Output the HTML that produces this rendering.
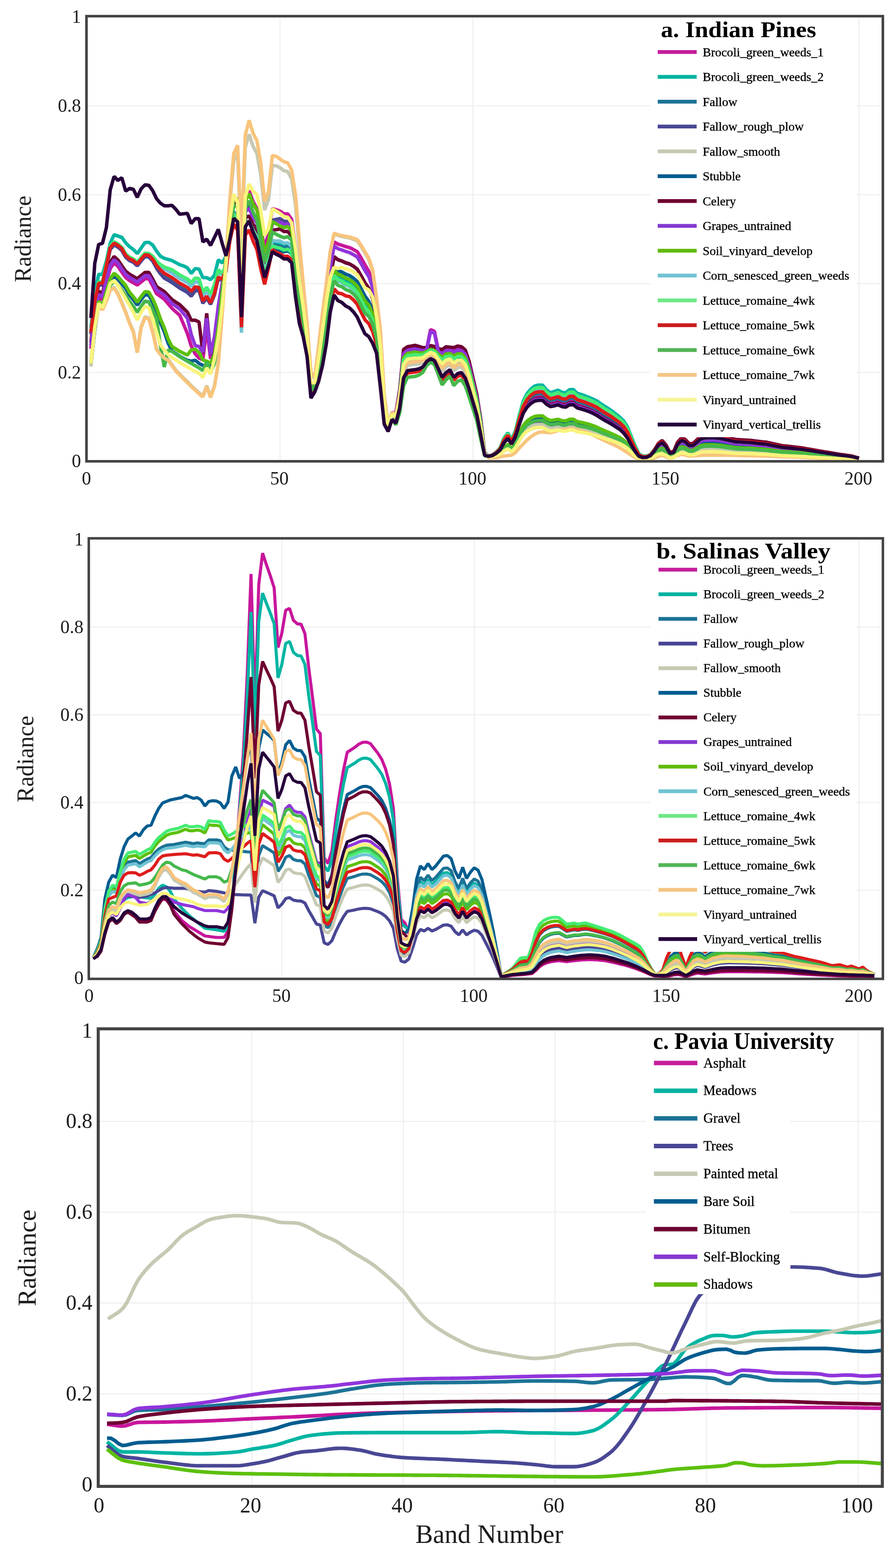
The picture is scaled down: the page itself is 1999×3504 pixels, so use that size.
<!DOCTYPE html>
<html lang="en"><head><meta charset="utf-8"><title>Spectral signatures</title>
<style>html,body{margin:0;padding:0;background:#fff}body{width:1999px;height:3504px;overflow:hidden}svg{display:block}text{font-family:'Liberation Serif', serif}.g{stroke:#efefef;stroke-width:2.4;fill:none}.fr{stroke:#444;fill:none}.c{fill:none;stroke-linejoin:round;stroke-linecap:butt}.cb{fill:none;stroke-linejoin:bevel;stroke-linecap:butt}</style></head><body>
<svg width="1999" height="3504" viewBox="0 0 1999 3504" role="img" aria-label="Spectral signatures of the Indian Pines, Salinas Valley and Pavia University datasets">
<defs><filter id="bl" x="-5%" y="-5%" width="110%" height="110%"><feGaussianBlur stdDeviation="0.55"/></filter><filter id="bt" x="-5%" y="-20%" width="110%" height="140%"><feGaussianBlur stdDeviation="0.7"/></filter></defs>
<rect width="1999" height="3504" fill="#fff"/>
<g id="chart-a">
<clipPath id="cpa"><rect x="193.1" y="36.1" width="1778.8" height="994.8"/></clipPath>
<path class="g" d="M625.5 36.1V1030.9M1056.5 36.1V1030.9M1487.5 36.1V1030.9M1918.5 36.1V1030.9M193.1 832.3H1971.9M193.1 633.7H1971.9M193.1 435.1H1971.9M193.1 236.5H1971.9"/>
<g clip-path="url(#cpa)"><g filter="url(#bl)">
<path class="cb" stroke="#c8189c" stroke-width="7.7" d="M203.1,779.3 211.7,699.7 220.4,664.8 229,669.8 237.6,630 246.2,600.2 254.8,587.2 263.5,595.2 272.1,608.1 280.7,620.1 289.3,627 297.9,632 306.6,637 315.2,630 323.8,623 332.4,623 341,638.6 349.7,656.2 358.3,662.4 366.9,668.5 375.5,678.8 384.1,689 392.8,696.8 401.4,704.6 410,724.8 418.6,745.4 427.2,773.3 435.9,790.7 444.5,800.2 453.1,804.1 461.7,732.5 470.3,802.1 479,772.3 487.6,702.6 496.2,643 504.8,583.2 513.4,507.2 522.1,444.3 530.7,444.3 539.3,656.1 547.9,445.1 556.5,426.2 565.2,450.1 573.8,466 582.4,509.1 591,554.6 599.6,520.5 608.3,466.1 616.9,468.7 625.5,471.9 634.1,477.6 642.7,478.1 651.4,490 660,554.5 668.6,634 677.2,693.6 685.8,759.4 694.5,858 703.1,855.5 711.7,800 720.3,734.4 728.9,666 737.6,588.3 746.2,540.5 754.8,545.5 763.4,548.2 772,551 780.7,553.3 789.3,557.5 797.9,562.3 806.5,576.3 815.1,591.7 823.8,606.7 832.4,633.1 841,689 849.6,763.1 858.2,898.3 866.9,951.8 875.5,922 884.1,923.2 892.7,874.6 901.3,785.4 910,778.5 918.6,777.1 927.2,775.5 935.8,777.8 944.4,779.9 953.1,779 961.7,736.5 970.3,740.5 978.9,782 987.5,785.6 996.2,778.8 1004.8,779.3 1013.4,781.4 1022,777.6 1030.6,778.8 1039.3,786.6 1047.9,812.1 1056.5,848.7 1065.1,885 1073.7,938.9 1082.4,1011.5 1091,1019.6 1099.6,1017.7 1108.2,1012.4 1116.8,1004.8 1125.5,986.9 1134.1,976.6 1142.7,989.7 1151.3,972.3 1159.9,943 1168.6,916.6 1177.2,902 1185.8,893.2 1194.4,887.4 1203,885.8 1211.7,885.8 1220.3,894.7 1228.9,900.5 1237.5,898.9 1246.1,896.1 1254.8,900.3 1263.4,901.6 1272,895.9 1280.6,895.8 1289.2,903.2 1297.9,905.7 1306.5,908.4 1315.1,911.5 1323.7,915.4 1332.3,919.6 1341,925.5 1349.6,930.9 1358.2,935.8 1366.8,941 1375.4,946.8 1384.1,952.6 1392.7,960.7 1401.3,972.6 1409.9,989.6 1418.5,1005.8 1427.2,1018.4 1435.8,1021.7 1444.4,1021.3 1453,1017.4 1461.6,1006.9 1470.3,994 1478.9,989.2 1487.5,998.2 1496.1,1013.1 1504.7,1011.1 1513.4,992.7 1522,984.5 1530.6,987.2 1539.2,995.7 1547.8,995.7 1556.5,988.2 1565.1,980.9 1573.7,978.7 1582.3,978.3 1590.9,977.9 1599.6,978.8 1608.2,979.8 1616.8,981.6 1625.4,983.4 1634,985.3 1642.7,987.2 1651.3,987.7 1659.9,988.2 1668.5,988.6 1677.1,989 1685.8,990.1 1694.4,991.2 1703,991.9 1711.6,992.7 1720.2,994.4 1728.9,996.2 1737.5,997.8 1746.1,999.5 1754.7,1000.3 1763.3,1001.2 1772,1002.1 1780.6,1003 1789.2,1003.8 1797.8,1005.2 1806.4,1006.5 1815.1,1007.8 1823.7,1009.2 1832.3,1010.5 1840.9,1011.8 1849.5,1013.1 1858.2,1014.3 1866.8,1015.6 1875.4,1016.9 1884,1017.9 1892.6,1019 1901.3,1020.1 1909.9,1022.1 1918.5,1024.2"/>
<path class="cb" stroke="#00b5a2" stroke-width="7.7" d="M203.1,732.5 211.7,652.9 220.4,613.1 229,613.1 237.6,583.2 246.2,543.5 254.8,524.5 263.5,527.5 272.1,530.5 280.7,542.5 289.3,551.4 297.9,557.4 306.6,566.7 315.2,554.4 323.8,542 332.4,541.5 341,547.4 349.7,561.4 358.3,572.3 366.9,577.3 375.5,579.8 384.1,582.3 392.8,586.9 401.4,591.6 410,594.2 418.6,598.5 427.2,611.1 435.9,600.2 444.5,601.2 453.1,620.5 461.7,620.5 470.3,625 479,615.1 487.6,580.6 496.2,587.4 504.8,573.3 513.4,523 522.1,473.8 530.7,483.4 539.3,700.2 547.9,501.7 556.5,493.7 565.2,515.3 573.8,530.9 582.4,571.2 591,610 599.6,581 608.3,543.3 616.9,545.7 625.5,546.7 634.1,550.5 642.7,548.3 651.4,555.5 660,625.5 668.6,690.3 677.2,729.9 685.8,781.5 694.5,875.3 703.1,865.6 711.7,827.2 720.3,779.5 728.9,723.7 737.6,651.7 746.2,610.9 754.8,620.3 763.4,623.5 772,629.2 780.7,632.6 789.3,639.2 797.9,648 806.5,664.7 815.1,681.6 823.8,692.4 832.4,712.8 841,749 849.6,824.9 858.2,927.5 866.9,959 875.5,930.7 884.1,935.7 892.7,894.9 901.3,818.1 910,805.8 918.6,804.5 927.2,803.2 935.8,803.3 944.4,801.9 953.1,794.8 961.7,789.3 970.3,792.5 978.9,805.2 987.5,817 996.2,808.3 1004.8,805.1 1013.4,815.2 1022,809.1 1030.6,808.3 1039.3,818.6 1047.9,843.7 1056.5,876.1 1065.1,908.3 1073.7,956.7 1082.4,1014.6 1091,1019.2 1099.6,1016.8 1108.2,1010.4 1116.8,1001.1 1125.5,979.3 1134.1,967.2 1142.7,982.5 1151.3,962.1 1159.9,927.8 1168.6,896.7 1177.2,879.6 1185.8,869.3 1194.4,862.5 1203,860.6 1211.7,860.6 1220.3,870.7 1228.9,877.4 1237.5,875.2 1246.1,871.8 1254.8,876.5 1263.4,877.8 1272,870.8 1280.6,870.4 1289.2,878.9 1297.9,881.5 1306.5,884.5 1315.1,887.9 1323.7,891.5 1332.3,895.4 1341,901.5 1349.6,907.2 1358.2,912.6 1366.8,918.5 1375.4,925.2 1384.1,932 1392.7,940.2 1401.3,953.9 1409.9,975.2 1418.5,996.3 1427.2,1014.3 1435.8,1019.1 1444.4,1019.1 1453,1015.6 1461.6,1004.7 1470.3,992.3 1478.9,989.2 1487.5,998.2 1496.1,1013.1 1504.7,1011.1 1513.4,992.7 1522,984.5 1530.6,987.2 1539.2,995.7 1547.8,995.7 1556.5,988.2 1565.1,980.9 1573.7,978.7 1582.3,978.3 1590.9,977.9 1599.6,978.8 1608.2,979.8 1616.8,981.6 1625.4,983.4 1634,985.3 1642.7,987.2 1651.3,987.7 1659.9,988.2 1668.5,988.6 1677.1,989 1685.8,990.1 1694.4,991.2 1703,991.9 1711.6,992.7 1720.2,994.4 1728.9,996.2 1737.5,997.8 1746.1,999.5 1754.7,1000.3 1763.3,1001.2 1772,1002.1 1780.6,1003 1789.2,1003.8 1797.8,1005.2 1806.4,1006.5 1815.1,1007.8 1823.7,1009.2 1832.3,1010.5 1840.9,1011.8 1849.5,1013.1 1858.2,1014.3 1866.8,1015.6 1875.4,1016.9 1884,1017.9 1892.6,1019 1901.3,1020.1 1909.9,1022.1 1918.5,1024.2"/>
<path class="cb" stroke="#1e7396" stroke-width="7.7" d="M203.1,745.4 211.7,675.8 220.4,636 229,636 237.6,596.2 246.2,556.4 254.8,546.4 263.5,551.4 272.1,558.7 280.7,573.8 289.3,581.3 297.9,585.2 306.6,593.2 315.2,582.3 323.8,572.4 332.4,573.3 341,582.3 349.7,596.2 358.3,606.1 366.9,613.6 375.5,618.5 384.1,623.4 392.8,629.7 401.4,636 410,640.7 418.6,645.4 427.2,653.9 435.9,643.9 444.5,645.4 453.1,675.8 461.7,664.8 470.3,679.8 479,658.9 487.6,622.1 496.2,627.5 504.8,606.1 513.4,524.7 522.1,476.2 530.7,485.4 539.3,701.6 547.9,502.5 556.5,493.7 565.2,515.8 573.8,531.9 582.4,572.6 591,611.6 599.6,582.9 608.3,546.2 616.9,549.2 625.5,550.6 634.1,553.9 642.7,551 651.4,557.7 660,627.2 668.6,691.3 677.2,730.2 685.8,781.5 694.5,875.3 703.1,865.6 711.7,826.4 720.3,777.2 728.9,719.6 737.6,646.3 746.2,604 754.8,612.9 763.4,616.1 772,621.5 780.7,624.7 789.3,631 797.9,639.4 806.5,655.7 815.1,672.4 823.8,682.2 832.4,701.9 841,739.7 849.6,814.2 858.2,921.5 866.9,957.2 875.5,928.5 884.1,932.5 892.7,889.7 901.3,809.7 910,798.9 918.6,797.5 927.2,796.2 935.8,796.8 944.4,796.3 953.1,790.8 961.7,785.5 970.3,788.4 978.9,799.3 987.5,809 996.2,800.8 1004.8,798.5 1013.4,806.6 1022,801.1 1030.6,800.8 1039.3,810.5 1047.9,835.7 1056.5,869.1 1065.1,902.3 1073.7,952.1 1082.4,1013.8 1091,1019.5 1099.6,1017.5 1108.2,1011.9 1116.8,1003.9 1125.5,985.1 1134.1,974.3 1142.7,987.9 1151.3,969.8 1159.9,939.3 1168.6,911.7 1177.2,896.6 1185.8,887.4 1194.4,881.3 1203,879.7 1211.7,879.7 1220.3,888.8 1228.9,894.9 1237.5,893.1 1246.1,890.2 1254.8,894.6 1263.4,895.9 1272,889.9 1280.6,889.7 1289.2,897.3 1297.9,899.9 1306.5,902.6 1315.1,905.8 1323.7,909.7 1332.3,913.8 1341,919.8 1349.6,925.3 1358.2,930.3 1366.8,935.7 1375.4,941.7 1384.1,947.8 1392.7,955.9 1401.3,968.3 1409.9,986.3 1418.5,1003.7 1427.2,1017.5 1435.8,1021.1 1444.4,1020.8 1453,1017 1461.6,1006.3 1470.3,993.6 1478.9,989.2 1487.5,998.2 1496.1,1013.1 1504.7,1011.1 1513.4,992.7 1522,984.5 1530.6,987.2 1539.2,995.7 1547.8,995.7 1556.5,988.2 1565.1,980.9 1573.7,978.7 1582.3,978.3 1590.9,977.9 1599.6,978.8 1608.2,979.8 1616.8,981.6 1625.4,983.4 1634,985.3 1642.7,987.2 1651.3,987.7 1659.9,988.2 1668.5,988.6 1677.1,989 1685.8,990.1 1694.4,991.2 1703,991.9 1711.6,992.7 1720.2,994.4 1728.9,996.2 1737.5,997.8 1746.1,999.5 1754.7,1000.3 1763.3,1001.2 1772,1002.1 1780.6,1003 1789.2,1003.8 1797.8,1005.2 1806.4,1006.5 1815.1,1007.8 1823.7,1009.2 1832.3,1010.5 1840.9,1011.8 1849.5,1013.1 1858.2,1014.3 1866.8,1015.6 1875.4,1016.9 1884,1017.9 1892.6,1019 1901.3,1020.1 1909.9,1022.1 1918.5,1024.2"/>
<path class="cb" stroke="#4a4694" stroke-width="7.7" d="M203.1,746.4 211.7,676.8 220.4,637 229,637 237.6,597.2 246.2,557.4 254.8,547.4 263.5,552.4 272.1,559.7 280.7,574.8 289.3,582.3 297.9,586.2 306.6,594.2 315.2,583.2 323.8,573.4 332.4,574.3 341,583.2 349.7,599.5 358.3,611.8 366.9,621.6 375.5,626.5 384.1,631.4 392.8,637.7 401.4,643.9 410,648.7 418.6,653.4 427.2,661.9 435.9,649.9 444.5,649.4 453.1,677.8 461.7,666 470.3,680.1 479,658.4 487.6,620.7 496.2,625.4 504.8,603.2 513.4,500.2 522.1,439.4 530.7,446.4 539.3,666.2 547.9,466.5 556.5,460 565.2,478.9 573.8,490.8 582.4,529 591,574.5 599.6,544.1 608.3,492.1 616.9,490.3 625.5,488.6 634.1,494.4 642.7,494.8 651.4,506.1 660,573.5 668.6,650.2 677.2,704.9 685.8,766.7 694.5,863.7 703.1,858.9 711.7,810.2 720.3,752.7 728.9,690.9 737.6,617 746.2,573.6 754.8,580.5 763.4,583.2 772,587.2 780.7,589.8 789.3,594.9 797.9,601.3 806.5,616.2 815.1,632.1 823.8,644.2 832.4,666.9 841,713.7 849.6,787.8 858.2,908 866.9,953.6 875.5,924.2 884.1,926.4 892.7,879.8 901.3,793.8 910,785.5 918.6,784 927.2,782.6 935.8,784.3 944.4,785.5 953.1,783 961.7,778.2 970.3,780.6 978.9,787.9 987.5,793.6 996.2,786.3 1004.8,785.9 1013.4,790 1022,785.6 1030.6,786.3 1039.3,794.8 1047.9,820.1 1056.5,855.7 1065.1,890.9 1073.7,943.4 1082.4,1012.3 1091,1020.6 1099.6,1019.9 1108.2,1017 1116.8,1013.3 1125.5,1004.5 1134.1,998.3 1142.7,1006.2 1151.3,995.7 1159.9,978.1 1168.6,962.2 1177.2,953.5 1185.8,948.2 1194.4,944.7 1203,943.8 1211.7,943.8 1220.3,949.1 1228.9,952.7 1237.5,951.7 1246.1,950.1 1254.8,952.7 1263.4,953.5 1272,950.1 1280.6,950.1 1289.2,954.6 1297.9,956.1 1306.5,957.8 1315.1,959.7 1323.7,962.2 1332.3,964.9 1341,968.6 1349.6,972 1358.2,975 1366.8,978.1 1375.4,981.6 1384.1,985.2 1392.7,990.2 1401.3,997.4 1409.9,1007.4 1418.5,1016.8 1427.2,1023.8 1435.8,1025.6 1444.4,1025.3 1453,1022.2 1461.6,1014.2 1470.3,1003.3 1478.9,997.6 1487.5,1004.7 1496.1,1016.7 1504.7,1015.1 1513.4,1000.4 1522,993.8 1530.6,996 1539.2,1002.7 1547.8,1002.7 1556.5,996.8 1565.1,990.9 1573.7,989.1 1582.3,988.8 1590.9,988.5 1599.6,989.2 1608.2,990 1616.8,991.5 1625.4,993 1634,994.5 1642.7,996 1651.3,996.4 1659.9,996.8 1668.5,997.1 1677.1,997.4 1685.8,998.3 1694.4,999.2 1703,999.8 1711.6,1000.4 1720.2,1001.7 1728.9,1003.1 1737.5,1004.5 1746.1,1005.8 1754.7,1006.5 1763.3,1007.2 1772,1007.9 1780.6,1008.6 1789.2,1009.3 1797.8,1010.3 1806.4,1011.4 1815.1,1012.5 1823.7,1013.5 1832.3,1014.6 1840.9,1015.6 1849.5,1016.6 1858.2,1017.7 1866.8,1018.7 1875.4,1019.7 1884,1020.5 1892.6,1021.4 1901.3,1022.2 1909.9,1023.9 1918.5,1025.6"/>
<path class="cb" stroke="#c6c9b2" stroke-width="7.7" d="M203.1,819.1 211.7,734.5 220.4,681.8 229,690.7 237.6,670.8 246.2,645.9 254.8,642 263.5,655.9 272.1,675.8 280.7,696.7 289.3,720.6 297.9,740.5 306.6,786.2 315.2,730.5 323.8,707.6 332.4,710.6 341,740.5 349.7,779 358.3,790.2 366.9,798.2 375.5,803.1 384.1,815.1 392.8,827.3 401.4,836 410,844.9 418.6,852.9 427.2,861.9 435.9,869.8 444.5,877.8 453.1,885 461.7,861.9 470.3,886.3 479,861.9 487.6,810.8 496.2,702 504.8,583.2 513.4,454.7 522.1,358.7 530.7,344.4 539.3,555.2 547.9,328.7 556.5,300.3 565.2,327.2 573.8,342.7 582.4,390 591,469.5 599.6,446 608.3,369.5 616.9,370.5 625.5,374.9 634.1,381.4 642.7,383.6 651.4,399.8 660,457.7 668.6,557.7 677.2,644.8 685.8,729.9 694.5,837.8 703.1,845.3 711.7,778.5 720.3,706.1 728.9,637.4 737.6,563.7 746.2,522.6 754.8,526.2 763.4,528.4 772,530.1 780.7,531.7 789.3,534.9 797.9,538.2 806.5,550.9 815.1,565.5 823.8,580 832.4,606.7 841,667.8 849.6,740 858.2,889 866.9,950 875.5,927.1 884.1,936.4 892.7,902.8 901.3,830.9 910,816.5 918.6,815.2 927.2,814.1 935.8,813.3 944.4,810.6 953.1,800.9 961.7,795.1 970.3,798.8 978.9,814.3 987.5,829.4 996.2,819.8 1004.8,815.2 1013.4,828.4 1022,821.4 1030.6,819.8 1039.3,831.1 1047.9,856.2 1056.5,886.8 1065.1,917.5 1073.7,963.6 1082.4,1015.8 1091,1020.6 1099.6,1020.1 1108.2,1017.3 1116.8,1014 1125.5,1006 1134.1,1000.1 1142.7,1007.5 1151.3,997.7 1159.9,981 1168.6,966 1177.2,957.7 1185.8,952.7 1194.4,949.4 1203,948.5 1211.7,948.5 1220.3,953.6 1228.9,957 1237.5,956.1 1246.1,954.5 1254.8,957 1263.4,957.7 1272,954.5 1280.6,954.5 1289.2,958.8 1297.9,960.2 1306.5,961.8 1315.1,963.6 1323.7,966 1332.3,968.5 1341,972 1349.6,975.2 1358.2,978 1366.8,981 1375.4,984.3 1384.1,987.7 1392.7,992.5 1401.3,999.3 1409.9,1008.7 1418.5,1017.6 1427.2,1024.2 1435.8,1025.9 1444.4,1025.6 1453,1023.5 1461.6,1018.1 1470.3,1011.8 1478.9,1010.1 1487.5,1014.6 1496.1,1022 1504.7,1021 1513.4,1011.8 1522,1007.8 1530.6,1009.1 1539.2,1013.3 1547.8,1013.3 1556.5,1009.6 1565.1,1005.9 1573.7,1004.8 1582.3,1004.6 1590.9,1004.4 1599.6,1004.9 1608.2,1005.4 1616.8,1006.3 1625.4,1007.2 1634,1008.2 1642.7,1009.1 1651.3,1009.4 1659.9,1009.6 1668.5,1009.8 1677.1,1010 1685.8,1010.6 1694.4,1011.1 1703,1011.5 1711.6,1011.8 1720.2,1012.7 1728.9,1013.6 1737.5,1014.4 1746.1,1015.2 1754.7,1015.7 1763.3,1016.1 1772,1016.5 1780.6,1017 1789.2,1017.4 1797.8,1018.1 1806.4,1018.8 1815.1,1019.4 1823.7,1020.1 1832.3,1020.8 1840.9,1021.4 1849.5,1022 1858.2,1022.7 1866.8,1023.3 1875.4,1023.9 1884,1024.5 1892.6,1025 1901.3,1025.5 1909.9,1026.6 1918.5,1027.6"/>
<path class="cb" stroke="#065c8f" stroke-width="7.7" d="M203.1,812.1 211.7,738.5 220.4,678.8 229,688.9 237.6,659.1 246.2,629.3 254.8,616.9 263.5,624.4 272.1,634.5 280.7,644.5 289.3,659.5 297.9,669.5 306.6,681.9 315.2,669.6 323.8,658.7 332.4,659.8 341,674.8 349.7,695.3 358.3,720.8 366.9,741.3 375.5,766.7 384.1,784.2 392.8,790.2 401.4,796.2 410,800.8 418.6,805.4 427.2,807.1 435.9,805.1 444.5,812.1 453.1,816.5 461.7,817.9 470.3,821 479,800.7 487.6,739.8 496.2,659 504.8,578.3 513.4,528.2 522.1,480.8 530.7,489.5 539.3,704.4 547.9,504.2 556.5,493.7 565.2,516.9 573.8,534.1 582.4,575.9 591,615 599.6,587 608.3,552.7 616.9,556.8 625.5,559.3 634.1,562.9 642.7,560.2 651.4,566.8 660,637.6 668.6,699.9 677.2,736 685.8,785.1 694.5,876.7 703.1,865.6 711.7,825.6 720.3,774.6 728.9,715.1 737.6,640.3 746.2,596.4 754.8,604.7 763.4,607.7 772,612.6 780.7,615.6 789.3,621.5 797.9,629.2 806.5,645.1 815.1,661.4 823.8,673.4 832.4,695.3 841,736 849.6,811.7 858.2,920.8 866.9,957.2 875.5,928.5 884.1,932.5 892.7,889.7 901.3,809.7 910,798.9 918.6,797.5 927.2,796.2 935.8,796.8 944.4,796.3 953.1,790.8 961.7,785.5 970.3,788.4 978.9,799.3 987.5,809 996.2,800.8 1004.8,798.5 1013.4,806.6 1022,801.1 1030.6,800.8 1039.3,810.5 1047.9,835.7 1056.5,869.1 1065.1,902.3 1073.7,952.1 1082.4,1013.8 1091,1020.4 1099.6,1019.6 1108.2,1016.3 1116.8,1012.1 1125.5,1002 1134.1,995.3 1142.7,1003.8 1151.3,992.4 1159.9,973.2 1168.6,955.8 1177.2,946.2 1185.8,940.5 1194.4,936.6 1203,935.6 1211.7,935.6 1220.3,941.4 1228.9,945.3 1237.5,944.3 1246.1,942.5 1254.8,945.3 1263.4,946.2 1272,942.5 1280.6,942.5 1289.2,947.4 1297.9,949.1 1306.5,950.9 1315.1,953 1323.7,955.8 1332.3,958.7 1341,962.7 1349.6,966.4 1358.2,969.7 1366.8,973.2 1375.4,977 1384.1,980.9 1392.7,986.4 1401.3,994.3 1409.9,1005.2 1418.5,1015.5 1427.2,1023.1 1435.8,1025.1 1444.4,1024.7 1453,1021.5 1461.6,1012.9 1470.3,1001.4 1478.9,995.5 1487.5,1003.1 1496.1,1015.8 1504.7,1014.1 1513.4,998.4 1522,991.5 1530.6,993.8 1539.2,1001 1547.8,1001 1556.5,994.6 1565.1,988.4 1573.7,986.5 1582.3,986.2 1590.9,985.8 1599.6,986.6 1608.2,987.4 1616.8,989 1625.4,990.6 1634,992.2 1642.7,993.8 1651.3,994.2 1659.9,994.6 1668.5,995 1677.1,995.3 1685.8,996.2 1694.4,997.2 1703,997.8 1711.6,998.4 1720.2,999.9 1728.9,1001.4 1737.5,1002.8 1746.1,1004.2 1754.7,1004.9 1763.3,1005.7 1772,1006.4 1780.6,1007.2 1789.2,1007.9 1797.8,1009 1806.4,1010.2 1815.1,1011.3 1823.7,1012.4 1832.3,1013.6 1840.9,1014.7 1849.5,1015.7 1858.2,1016.8 1866.8,1017.9 1875.4,1019 1884,1019.9 1892.6,1020.8 1901.3,1021.7 1909.9,1023.5 1918.5,1025.2"/>
<path class="cb" stroke="#6e0032" stroke-width="7.7" d="M203.1,765.3 211.7,685.7 220.4,650.9 229,655.8 237.6,616 246.2,586.1 254.8,573.1 263.5,581.1 272.1,594 280.7,605.9 289.3,612.8 297.9,617.8 306.6,622.7 315.2,615.7 323.8,608.8 332.4,608.7 341,623.6 349.7,640.5 358.3,646 366.9,651.4 375.5,660.4 384.1,669.4 392.8,675.1 401.4,680.8 410,689.2 418.6,697.7 427.2,715.6 435.9,715.6 444.5,719.6 453.1,789.2 461.7,700.1 470.3,792.2 479,772.3 487.6,712.6 496.2,643 504.8,583.2 513.4,509 522.1,453.9 530.7,463.5 539.3,683.8 547.9,487 556.5,482.5 565.2,501.2 573.8,513.5 582.4,551.2 591,592 599.6,561.2 608.3,514.5 616.9,513.3 625.5,511.6 634.1,517.3 642.7,517.2 651.4,527.5 660,596.7 668.6,668.8 677.2,716.9 685.8,774.1 694.5,869.5 703.1,862.2 711.7,816.6 720.3,759.8 728.9,696.3 737.6,619.7 746.2,573.6 754.8,580.5 763.4,583.2 772,587.2 780.7,589.8 789.3,594.9 797.9,601.3 806.5,616.2 815.1,632.1 823.8,644.2 832.4,666.9 841,713.7 849.6,787.8 858.2,908 866.9,953.6 875.5,922.5 884.1,922.5 892.7,871.8 901.3,781 910,774.8 918.6,773.3 927.2,771.7 935.8,774.3 944.4,776.9 953.1,776.9 961.7,772.3 970.3,774.3 978.9,778.9 987.5,781.3 996.2,774.8 1004.8,775.8 1013.4,776.8 1022,773.3 1030.6,774.8 1039.3,782.2 1047.9,807.7 1056.5,844.9 1065.1,881.8 1073.7,936.5 1082.4,1011.1 1091,1019.7 1099.6,1017.9 1108.2,1012.7 1116.8,1005.4 1125.5,988.2 1134.1,978.2 1142.7,990.8 1151.3,973.9 1159.9,945.5 1168.6,919.8 1177.2,905.7 1185.8,897.1 1194.4,891.5 1203,889.9 1211.7,889.9 1220.3,898.5 1228.9,904.3 1237.5,902.7 1246.1,900.1 1254.8,904.2 1263.4,905.5 1272,900 1280.6,899.9 1289.2,907.1 1297.9,909.5 1306.5,912.2 1315.1,915.2 1323.7,919.2 1332.3,923.3 1341,929.2 1349.6,934.5 1358.2,939.3 1366.8,944.4 1375.4,950.1 1384.1,955.8 1392.7,963.8 1401.3,975.4 1409.9,991.8 1418.5,1007.2 1427.2,1019.1 1435.8,1022.1 1444.4,1021.7 1453,1017.3 1461.6,1005.8 1470.3,991 1478.9,984.2 1487.5,994.2 1496.1,1010.9 1504.7,1008.7 1513.4,988.1 1522,979 1530.6,982 1539.2,991.4 1547.8,991.4 1556.5,983.1 1565.1,974.8 1573.7,972.4 1582.3,971.9 1590.9,971.5 1599.6,972.5 1608.2,973.6 1616.8,975.7 1625.4,977.7 1634,979.8 1642.7,982 1651.3,982.5 1659.9,983.1 1668.5,983.5 1677.1,984 1685.8,985.2 1694.4,986.4 1703,987.3 1711.6,988.1 1720.2,990 1728.9,992 1737.5,993.8 1746.1,995.7 1754.7,996.7 1763.3,997.6 1772,998.6 1780.6,999.6 1789.2,1000.6 1797.8,1002.1 1806.4,1003.6 1815.1,1005.1 1823.7,1006.6 1832.3,1008 1840.9,1009.5 1849.5,1010.9 1858.2,1012.3 1866.8,1013.7 1875.4,1015.2 1884,1016.4 1892.6,1017.6 1901.3,1018.7 1909.9,1021.1 1918.5,1023.4"/>
<path class="cb" stroke="#9034dc" stroke-width="7.7" d="M203.1,772.3 211.7,692.7 220.4,657.9 229,662.9 237.6,623 246.2,593.2 254.8,580.3 263.5,588.2 272.1,601.2 280.7,613.1 289.3,620.1 297.9,625 306.6,630 315.2,623 323.8,616.1 332.4,616.1 341,631 349.7,647.9 358.3,653.4 366.9,658.9 375.5,668.5 384.1,678.1 392.8,684.4 401.4,690.7 410,700.9 418.6,711.1 427.2,747.4 435.9,772.3 444.5,774.3 453.1,787.2 461.7,711.1 470.3,792.2 479,752.4 487.6,683.7 496.2,633 504.8,583.2 513.4,502.9 522.1,443.7 530.7,451.5 539.3,671.5 547.9,472.6 556.5,466.7 565.2,485.7 573.8,497.8 582.4,536 591,580.1 599.6,549.6 608.3,499.5 616.9,498 625.5,496.4 634.1,501.1 642.7,500.3 651.4,510.4 660,577 668.6,652.1 677.2,705.5 685.8,766.7 694.5,863.7 703.1,858.9 711.7,807.5 720.3,744.8 728.9,677.1 737.6,598.6 746.2,550.2 754.8,555.8 763.4,558.6 772,561.9 780.7,564.4 789.3,569 797.9,574.4 806.5,588.9 815.1,604.6 823.8,618.1 832.4,642.9 841,695.8 849.6,769.5 858.2,896.6 866.9,950 875.5,921.6 884.1,924.1 892.7,877.8 901.3,790.6 910,782.8 918.6,781.4 927.2,779.9 935.8,781.8 944.4,783.4 953.1,781.5 961.7,740.5 970.3,744.4 978.9,785.7 987.5,790.5 996.2,783.4 1004.8,783.4 1013.4,786.7 1022,782.5 1030.6,783.4 1039.3,791.7 1047.9,817 1056.5,853 1065.1,888.6 1073.7,941.7 1082.4,1012 1091,1019.7 1099.6,1018 1108.2,1012.9 1116.8,1005.7 1125.5,988.8 1134.1,978.9 1142.7,991.4 1151.3,974.8 1159.9,946.8 1168.6,921.4 1177.2,907.5 1185.8,899.1 1194.4,893.5 1203,892 1211.7,892 1220.3,900.5 1228.9,906.1 1237.5,904.6 1246.1,902 1254.8,906.1 1263.4,907.4 1272,902 1280.6,901.9 1289.2,909 1297.9,911.4 1306.5,914.1 1315.1,917.1 1323.7,921.1 1332.3,925.2 1341,931 1349.6,936.4 1358.2,941.1 1366.8,946.2 1375.4,951.7 1384.1,957.3 1392.7,965.3 1401.3,976.8 1409.9,992.8 1418.5,1007.9 1427.2,1019.4 1435.8,1022.3 1444.4,1021.8 1453,1018.2 1461.6,1008.6 1470.3,997.1 1478.9,993.4 1487.5,1001.4 1496.1,1014.9 1504.7,1013.1 1513.4,996.5 1522,989.2 1530.6,991.6 1539.2,999.2 1547.8,999.2 1556.5,992.5 1565.1,985.9 1573.7,983.9 1582.3,983.5 1590.9,983.2 1599.6,984 1608.2,984.9 1616.8,986.5 1625.4,988.2 1634,989.9 1642.7,991.6 1651.3,992 1659.9,992.5 1668.5,992.9 1677.1,993.2 1685.8,994.2 1694.4,995.2 1703,995.9 1711.6,996.5 1720.2,998.1 1728.9,999.7 1737.5,1001.1 1746.1,1002.6 1754.7,1003.4 1763.3,1004.2 1772,1005 1780.6,1005.8 1789.2,1006.6 1797.8,1007.8 1806.4,1009 1815.1,1010.2 1823.7,1011.4 1832.3,1012.6 1840.9,1013.7 1849.5,1014.8 1858.2,1016 1866.8,1017.1 1875.4,1018.3 1884,1019.2 1892.6,1020.2 1901.3,1021.1 1909.9,1023 1918.5,1024.9"/>
<path class="cb" stroke="#5cc010" stroke-width="7.7" d="M203.1,812.1 211.7,732.5 220.4,672.8 229,682.8 237.6,652.9 246.2,623 254.8,610.6 263.5,618.1 272.1,628 280.7,638 289.3,652.9 297.9,662.9 306.6,675.2 315.2,662.9 323.8,651.9 332.4,652.9 341,667.8 349.7,687.7 358.3,712.6 366.9,732.5 375.5,757.4 384.1,774.3 392.8,779.8 401.4,785.2 410,789.4 418.6,793.5 427.2,782.2 435.9,780.3 444.5,787.2 453.1,804.5 461.7,807.1 470.3,811.4 479,792.2 487.6,732.5 496.2,652.9 504.8,573.3 513.4,506.4 522.1,444 530.7,445.4 539.3,658.5 547.9,449.7 556.5,433 565.2,455.3 573.8,469.8 582.4,511.3 591,566 599.6,541 608.3,494.9 616.9,500 625.5,505.1 634.1,508.6 642.7,506.5 651.4,515.1 660,580.9 668.6,654.2 677.2,706.2 685.8,766.7 694.5,866.6 703.1,862.2 711.7,820.1 720.3,770.1 728.9,714.2 737.6,643.5 746.2,604 754.8,612.9 763.4,616.1 772,621.5 780.7,624.7 789.3,631 797.9,639.4 806.5,655.7 815.1,672.4 823.8,682.2 832.4,701.9 841,739.7 849.6,814.2 858.2,921.5 866.9,957.2 875.5,927 884.1,929.2 892.7,882.9 901.3,798.9 910,789.8 918.6,788.3 927.2,786.9 935.8,788.3 944.4,789 953.1,785.5 961.7,780.5 970.3,783.1 978.9,791.6 987.5,798.5 996.2,790.9 1004.8,789.9 1013.4,795.3 1022,790.6 1030.6,790.9 1039.3,799.8 1047.9,825.1 1056.5,860 1065.1,894.6 1073.7,946.2 1082.4,1012.8 1091,1020.3 1099.6,1019.4 1108.2,1015.8 1116.8,1011.2 1125.5,1000.2 1134.1,993 1142.7,1002.1 1151.3,989.9 1159.9,969.5 1168.6,950.9 1177.2,940.8 1185.8,934.6 1194.4,930.6 1203,929.4 1211.7,929.4 1220.3,935.7 1228.9,939.8 1237.5,938.7 1246.1,936.9 1254.8,939.8 1263.4,940.8 1272,936.9 1280.6,936.9 1289.2,942 1297.9,943.8 1306.5,945.8 1315.1,948 1323.7,950.9 1332.3,954.1 1341,958.4 1349.6,962.3 1358.2,965.8 1366.8,969.5 1375.4,973.6 1384.1,977.6 1392.7,983.6 1401.3,991.9 1409.9,1003.6 1418.5,1014.5 1427.2,1022.6 1435.8,1024.7 1444.4,1024.3 1453,1021.5 1461.6,1014.1 1470.3,1005.1 1478.9,1001.7 1487.5,1008 1496.1,1018.5 1504.7,1017.1 1513.4,1004.2 1522,998.5 1530.6,1000.4 1539.2,1006.3 1547.8,1006.3 1556.5,1001.1 1565.1,995.9 1573.7,994.4 1582.3,994.1 1590.9,993.8 1599.6,994.5 1608.2,995.1 1616.8,996.4 1625.4,997.7 1634,999 1642.7,1000.4 1651.3,1000.7 1659.9,1001.1 1668.5,1001.3 1677.1,1001.6 1685.8,1002.4 1694.4,1003.1 1703,1003.7 1711.6,1004.2 1720.2,1005.4 1728.9,1006.6 1737.5,1007.8 1746.1,1008.9 1754.7,1009.5 1763.3,1010.1 1772,1010.8 1780.6,1011.4 1789.2,1012 1797.8,1012.9 1806.4,1013.9 1815.1,1014.8 1823.7,1015.7 1832.3,1016.7 1840.9,1017.5 1849.5,1018.4 1858.2,1019.3 1866.8,1020.2 1875.4,1021.1 1884,1021.9 1892.6,1022.6 1901.3,1023.3 1909.9,1024.8 1918.5,1026.3"/>
<path class="cb" stroke="#70c4d4" stroke-width="7.7" d="M203.1,740.5 211.7,670.7 220.4,630.8 229,630.6 237.6,590.7 246.2,550.8 254.8,540.7 263.5,545.6 272.1,552.7 280.7,567.7 289.3,575 297.9,578.9 306.6,586.7 315.2,575.7 323.8,565.7 332.4,566.5 341,575.3 349.7,587.2 358.3,595.2 366.9,600.7 375.5,605.4 384.1,610.2 392.8,616.3 401.4,622.4 410,627 418.6,631.6 427.2,639.9 435.9,629.8 444.5,631.1 453.1,661.3 461.7,650.2 470.3,665 479,643.9 487.6,607.8 496.2,613.9 504.8,593.2 513.4,520.4 522.1,476.9 530.7,495.7 539.3,743.6 547.9,506.6 556.5,493.7 565.2,514.3 573.8,528.8 582.4,568.1 591,606.9 599.6,577.2 608.3,537.4 616.9,538.6 625.5,538.7 634.1,543.6 642.7,542.6 651.4,551.2 660,621.9 668.6,688.4 677.2,729.3 685.8,781.5 694.5,875.3 703.1,865.6 711.7,828 720.3,781.9 728.9,727.7 737.6,657.1 746.2,617.8 754.8,627.6 763.4,631 772,637 780.7,640.5 789.3,647.4 797.9,656.7 806.5,673.7 815.1,690.8 823.8,699.7 832.4,718.2 841,752.1 849.6,827 858.2,928.1 866.9,959 875.5,931 884.1,936.5 892.7,896.5 901.3,820.6 910,808 918.6,806.6 927.2,805.4 935.8,805.3 944.4,803.7 953.1,796 961.7,790.4 970.3,793.8 978.9,807 987.5,819.5 996.2,810.6 1004.8,807.1 1013.4,817.8 1022,811.5 1030.6,810.6 1039.3,821.1 1047.9,846.2 1056.5,878.2 1065.1,910.1 1073.7,958.1 1082.4,1014.8 1091,1019.3 1099.6,1017.1 1108.2,1011 1116.8,1002.3 1125.5,981.7 1134.1,970.3 1142.7,984.8 1151.3,965.4 1159.9,932.7 1168.6,903.1 1177.2,886.9 1185.8,877.1 1194.4,870.6 1203,868.8 1211.7,868.8 1220.3,878.5 1228.9,884.9 1237.5,882.9 1246.1,879.7 1254.8,884.3 1263.4,885.6 1272,879 1280.6,878.7 1289.2,886.8 1297.9,889.4 1306.5,892.3 1315.1,895.7 1323.7,899.4 1332.3,903.4 1341,909.5 1349.6,915.1 1358.2,920.3 1366.8,926 1375.4,932.4 1384.1,938.9 1392.7,947.1 1401.3,960.3 1409.9,980.1 1418.5,999.6 1427.2,1015.7 1435.8,1020 1444.4,1019.8 1453,1016.2 1461.6,1005.4 1470.3,992.9 1478.9,989.2 1487.5,998.2 1496.1,1013.1 1504.7,1011.1 1513.4,992.7 1522,984.5 1530.6,987.2 1539.2,995.7 1547.8,995.7 1556.5,988.2 1565.1,980.9 1573.7,978.7 1582.3,978.3 1590.9,977.9 1599.6,978.8 1608.2,979.8 1616.8,981.6 1625.4,983.4 1634,985.3 1642.7,987.2 1651.3,987.7 1659.9,988.2 1668.5,988.6 1677.1,989 1685.8,990.1 1694.4,991.2 1703,991.9 1711.6,992.7 1720.2,994.4 1728.9,996.2 1737.5,997.8 1746.1,999.5 1754.7,1000.3 1763.3,1001.2 1772,1002.1 1780.6,1003 1789.2,1003.8 1797.8,1005.2 1806.4,1006.5 1815.1,1007.8 1823.7,1009.2 1832.3,1010.5 1840.9,1011.8 1849.5,1013.1 1858.2,1014.3 1866.8,1015.6 1875.4,1016.9 1884,1017.9 1892.6,1019 1901.3,1020.1 1909.9,1022.1 1918.5,1024.2"/>
<path class="cb" stroke="#44ec74" stroke-width="7.7" d="M203.1,739.5 211.7,669.7 220.4,629.9 229,629.8 237.6,589.9 246.2,550.1 254.8,540.1 263.5,545 272.1,552.2 280.7,567.2 289.3,574.6 297.9,578.5 306.6,586.4 315.2,575.4 323.8,565.5 332.4,566.3 341,572.6 349.7,583.9 358.3,591.2 366.9,596.7 375.5,599.6 384.1,602.6 392.8,608.5 401.4,614.5 410,619 418.6,623.4 427.2,631.6 435.9,621.3 444.5,622.6 453.1,652.9 461.7,642 470.3,656.9 479,636 487.6,602.5 496.2,611.3 504.8,593.2 513.4,526.5 522.1,478.5 530.7,487.5 539.3,703 547.9,503.4 556.5,493.7 565.2,516.3 573.8,532.9 582.4,574.1 591,613.1 599.6,584.7 608.3,549.1 616.9,552.6 625.5,554.5 634.1,558.8 642.7,556.9 651.4,564.2 660,635.4 668.6,698.7 677.2,735.6 685.8,785.1 694.5,879.6 703.1,869 711.7,834.1 720.3,788 728.9,731.5 737.6,657.6 746.2,615.1 754.8,624.7 763.4,628 772,633.9 780.7,637.4 789.3,644.1 797.9,653.2 806.5,670.1 815.1,687.1 823.8,696.8 832.4,716 841,750.8 849.6,826.2 858.2,927.8 866.9,959 875.5,928.9 884.1,931.8 892.7,886.9 901.3,805.3 910,795.1 918.6,793.7 927.2,792.3 935.8,793.3 944.4,793.3 953.1,788.6 961.7,783.4 970.3,786.2 978.9,796.1 987.5,804.7 996.2,796.7 1004.8,795 1013.4,801.9 1022,796.7 1030.6,796.7 1039.3,806.1 1047.9,831.3 1056.5,865.4 1065.1,899.1 1073.7,949.7 1082.4,1013.4 1091,1019.3 1099.6,1017 1108.2,1010.8 1116.8,1001.9 1125.5,980.9 1134.1,969.2 1142.7,984 1151.3,964.3 1159.9,931.1 1168.6,901 1177.2,884.5 1185.8,874.5 1194.4,867.9 1203,866.1 1211.7,866.1 1220.3,875.9 1228.9,882.4 1237.5,880.4 1246.1,877.1 1254.8,881.7 1263.4,883 1272,876.3 1280.6,876 1289.2,884.2 1297.9,886.8 1306.5,889.7 1315.1,893.1 1323.7,896.7 1332.3,900.7 1341,906.8 1349.6,912.5 1358.2,917.8 1366.8,923.5 1375.4,930 1384.1,936.6 1392.7,944.8 1401.3,958.2 1409.9,978.5 1418.5,998.5 1427.2,1015.3 1435.8,1019.7 1444.4,1019.6 1453,1016 1461.6,1005.2 1470.3,992.7 1478.9,989.2 1487.5,998.2 1496.1,1013.1 1504.7,1011.1 1513.4,992.7 1522,984.5 1530.6,987.2 1539.2,995.7 1547.8,995.7 1556.5,988.2 1565.1,980.9 1573.7,978.7 1582.3,978.3 1590.9,977.9 1599.6,978.8 1608.2,979.8 1616.8,981.6 1625.4,983.4 1634,985.3 1642.7,987.2 1651.3,987.7 1659.9,988.2 1668.5,988.6 1677.1,989 1685.8,990.1 1694.4,991.2 1703,991.9 1711.6,992.7 1720.2,994.4 1728.9,996.2 1737.5,997.8 1746.1,999.5 1754.7,1000.3 1763.3,1001.2 1772,1002.1 1780.6,1003 1789.2,1003.8 1797.8,1005.2 1806.4,1006.5 1815.1,1007.8 1823.7,1009.2 1832.3,1010.5 1840.9,1011.8 1849.5,1013.1 1858.2,1014.3 1866.8,1015.6 1875.4,1016.9 1884,1017.9 1892.6,1019 1901.3,1020.1 1909.9,1022.1 1918.5,1024.2"/>
<path class="cb" stroke="#de1a1a" stroke-width="7.7" d="M203.1,742.5 211.7,672.8 220.4,633 229,633 237.6,593.2 246.2,553.4 254.8,543.5 263.5,548.4 272.1,555.7 280.7,570.8 289.3,578.3 297.9,582.3 306.6,590.2 315.2,579.3 323.8,569.4 332.4,570.3 341,579.3 349.7,593.2 358.3,603.2 366.9,610.6 375.5,615.5 384.1,620.5 392.8,626.7 401.4,633 410,637.7 418.6,642.5 427.2,650.9 435.9,641 444.5,642.5 453.1,672.8 461.7,661.9 470.3,676.8 479,655.9 487.6,619.1 496.2,624.5 504.8,603.2 513.4,537.9 522.1,500.8 530.7,514.5 539.3,731.4 547.9,525.1 556.5,513.9 565.2,538.5 573.8,557.6 582.4,600.3 591,635.4 599.6,599 608.3,558.1 616.9,563.5 625.5,567.1 634.1,573 642.7,572.7 651.4,581 660,652.1 668.6,710.7 677.2,742.5 685.8,788.8 694.5,883.9 703.1,872.4 711.7,843.9 720.3,805.3 728.9,754.8 737.6,684.1 746.2,645.5 754.8,654.9 763.4,656.4 772,661.2 780.7,662.7 789.3,670 797.9,680.1 806.5,697.5 815.1,714.6 823.8,723.4 832.4,741.1 841,770 849.6,846.2 858.2,936.3 866.9,960.8 875.5,936.2 884.1,946.5 892.7,915.6 901.3,851.3 910,833.7 918.6,832.4 927.2,831.5 935.8,829.2 944.4,824.4 953.1,810.8 961.7,804.5 970.3,808.9 978.9,828.8 987.5,849.1 996.2,838.3 1004.8,831.4 1013.4,849.6 1022,841.2 1030.6,838.3 1039.3,851.2 1047.9,876 1056.5,904 1065.1,932.1 1073.7,974.8 1082.4,1017.7 1091,1019.4 1099.6,1017.3 1108.2,1011.6 1116.8,1003.3 1125.5,983.8 1134.1,972.8 1142.7,986.8 1151.3,968.2 1159.9,936.9 1168.6,908.5 1177.2,893 1185.8,883.5 1194.4,877.3 1203,875.6 1211.7,875.6 1220.3,885 1228.9,891.2 1237.5,889.3 1246.1,886.3 1254.8,890.7 1263.4,892 1272,885.8 1280.6,885.6 1289.2,893.4 1297.9,896 1306.5,898.8 1315.1,902 1323.7,905.8 1332.3,909.9 1341,916 1349.6,921.5 1358.2,926.6 1366.8,932.1 1375.4,938.3 1384.1,944.5 1392.7,952.7 1401.3,965.3 1409.9,984 1418.5,1002.2 1427.2,1016.8 1435.8,1020.7 1444.4,1020.4 1453,1016.6 1461.6,1005.5 1470.3,992.2 1478.9,987.5 1487.5,996.9 1496.1,1012.4 1504.7,1010.3 1513.4,991.2 1522,982.7 1530.6,985.5 1539.2,994.3 1547.8,994.3 1556.5,986.5 1565.1,978.8 1573.7,976.6 1582.3,976.2 1590.9,975.7 1599.6,976.7 1608.2,977.7 1616.8,979.6 1625.4,981.5 1634,983.5 1642.7,985.5 1651.3,986 1659.9,986.5 1668.5,986.9 1677.1,987.3 1685.8,988.5 1694.4,989.6 1703,990.4 1711.6,991.2 1720.2,993 1728.9,994.8 1737.5,996.5 1746.1,998.2 1754.7,999.1 1763.3,1000 1772,1000.9 1780.6,1001.8 1789.2,1002.7 1797.8,1004.1 1806.4,1005.5 1815.1,1006.9 1823.7,1008.3 1832.3,1009.7 1840.9,1011 1849.5,1012.3 1858.2,1013.7 1866.8,1015 1875.4,1016.3 1884,1017.4 1892.6,1018.5 1901.3,1019.6 1909.9,1021.8 1918.5,1024"/>
<path class="cb" stroke="#44b84c" stroke-width="7.7" d="M203.1,812.1 211.7,732.5 220.4,677.8 229,687.7 237.6,662.9 246.2,638 254.8,628 263.5,638 272.1,647.9 280.7,660.9 289.3,672.8 297.9,684.7 306.6,697.7 315.2,684.7 323.8,672.8 332.4,674.8 341,692.7 349.7,712.6 358.3,772.3 366.9,820.1 375.5,782.2 384.1,785.2 392.8,791.2 401.4,797.2 410,802.1 418.6,807.1 427.2,812.1 435.9,817.1 444.5,822 453.1,828 461.7,808.7 470.3,832 479,812.1 487.6,752.4 496.2,672.8 504.8,583.2 513.4,516 522.1,458.8 530.7,461.5 539.3,673.6 547.9,465.6 556.5,448.7 565.2,474.3 573.8,492.5 582.4,536.9 591,585.6 599.6,559.6 608.3,518.6 616.9,523.6 625.5,527.8 634.1,531.2 642.7,528.8 651.4,536.4 660,604 668.6,672.7 677.2,718.2 685.8,774.1 694.5,872.4 703.1,865.6 711.7,829.1 720.3,785.1 728.9,733.4 737.6,664.7 746.2,627.5 754.8,637.6 763.4,640.7 772,646.8 780.7,650.1 789.3,656.9 797.9,666.2 806.5,683.1 815.1,700 823.8,707.1 832.4,723.7 841,755.2 849.6,829.2 858.2,928.6 866.9,959 875.5,936.7 884.1,949.4 892.7,922.7 901.3,862.8 910,843.3 918.6,842.1 927.2,841.2 935.8,838.2 944.4,832.2 953.1,816.4 961.7,809.7 970.3,814.5 978.9,836.9 987.5,860.2 996.2,848.7 1004.8,840.5 1013.4,861.5 1022,852.3 1030.6,848.7 1039.3,862.5 1047.9,887.2 1056.5,913.7 1065.1,940.3 1073.7,981.1 1082.4,1018.7 1091,1020.5 1099.6,1019.8 1108.2,1016.6 1116.8,1012.7 1125.5,1003.3 1134.1,996.8 1142.7,1005 1151.3,994.1 1159.9,975.7 1168.6,959 1177.2,949.9 1185.8,944.3 1194.4,940.7 1203,939.7 1211.7,939.7 1220.3,945.3 1228.9,949 1237.5,948 1246.1,946.3 1254.8,949 1263.4,949.9 1272,946.3 1280.6,946.3 1289.2,951 1297.9,952.6 1306.5,954.3 1315.1,956.3 1323.7,959 1332.3,961.8 1341,965.7 1349.6,969.2 1358.2,972.3 1366.8,975.7 1375.4,979.3 1384.1,983 1392.7,988.3 1401.3,995.9 1409.9,1006.3 1418.5,1016.1 1427.2,1023.5 1435.8,1025.3 1444.4,1025 1453,1022.4 1461.6,1015.7 1470.3,1007.4 1478.9,1004.3 1487.5,1010 1496.1,1019.5 1504.7,1018.3 1513.4,1006.5 1522,1001.3 1530.6,1003 1539.2,1008.4 1547.8,1008.4 1556.5,1003.6 1565.1,998.9 1573.7,997.5 1582.3,997.2 1590.9,997 1599.6,997.6 1608.2,998.2 1616.8,999.4 1625.4,1000.6 1634,1001.8 1642.7,1003 1651.3,1003.3 1659.9,1003.6 1668.5,1003.9 1677.1,1004.1 1685.8,1004.8 1694.4,1005.5 1703,1006 1711.6,1006.5 1720.2,1007.6 1728.9,1008.7 1737.5,1009.8 1746.1,1010.8 1754.7,1011.4 1763.3,1011.9 1772,1012.5 1780.6,1013.1 1789.2,1013.6 1797.8,1014.5 1806.4,1015.3 1815.1,1016.2 1823.7,1017 1832.3,1017.9 1840.9,1018.7 1849.5,1019.5 1858.2,1020.3 1866.8,1021.1 1875.4,1022 1884,1022.6 1892.6,1023.3 1901.3,1024 1909.9,1025.3 1918.5,1026.7"/>
<path class="cb" stroke="#f8c47c" stroke-width="7.7" d="M203.1,812.1 211.7,732.5 220.4,683.7 229,692.7 237.6,672.8 246.2,647.9 254.8,643.9 263.5,657.9 272.1,677.8 280.7,698.7 289.3,722.5 297.9,742.5 306.6,788.2 315.2,732.5 323.8,709.6 332.4,712.6 341,742.5 349.7,781 358.3,792.2 366.9,800.2 375.5,805.1 384.1,817.1 392.8,829.3 401.4,838 410,846.9 418.6,854.9 427.2,863.8 435.9,871.8 444.5,879.8 453.1,887 461.7,863.8 470.3,888.3 479,863.8 487.6,812.1 496.2,702.6 504.8,583.2 513.4,445.9 522.1,343.1 530.7,324.6 539.3,533.5 547.9,301.7 556.5,268.8 565.2,297.7 573.8,314.2 582.4,363.7 591,449.9 599.6,428 608.3,347.4 616.9,349.4 625.5,355.4 634.1,361.6 642.7,363.7 651.4,380.3 660,436 668.6,540 677.2,633 685.8,722.5 694.5,832 703.1,842 711.7,772.3 720.3,699.7 728.9,633 737.6,562.4 746.2,521.2 754.8,524.5 763.4,526.5 772,528 780.7,529.5 789.3,532.5 797.9,535.5 806.5,548 815.1,562.4 823.8,576.9 832.4,603.6 841,665.4 849.6,737.5 858.2,881.8 866.9,946.4 875.5,921.5 884.1,926.5 892.7,881.8 901.3,824 910,810.6 918.6,809.4 927.2,808.1 935.8,806.9 944.4,805.6 953.1,797.7 961.7,791.7 970.3,795.4 978.9,809.3 987.5,822.5 996.2,813.6 1004.8,809.7 1013.4,821.1 1022,814.6 1030.6,813.5 1039.3,824.2 1047.9,849.3 1056.5,880.8 1065.1,912.6 1073.7,961.4 1082.4,1015.1 1091,1023 1099.6,1023 1108.2,1023 1116.8,1021 1125.5,1019.1 1134.1,1018.1 1142.7,1017.1 1151.3,1011.5 1159.9,1001.1 1168.6,992.2 1177.2,983.2 1185.8,975.9 1194.4,970.3 1203,966.3 1211.7,965.3 1220.3,966.2 1228.9,967 1237.5,964.7 1246.1,962.3 1254.8,960.9 1263.4,959.4 1272,958 1280.6,958.4 1289.2,960.4 1297.9,962.3 1306.5,965 1315.1,967.6 1323.7,971.7 1332.3,975.9 1341,980.1 1349.6,984.2 1358.2,988.2 1366.8,992.2 1375.4,996.4 1384.1,1000.6 1392.7,1006 1401.3,1011.5 1409.9,1017 1418.5,1022.5 1427.2,1024.8 1435.8,1027 1444.4,1026.5 1453,1026 1461.6,1023 1470.3,1020.1 1478.9,1017.1 1487.5,1020.6 1496.1,1024 1504.7,1021 1513.4,1018.1 1522,1015.1 1530.6,1017.1 1539.2,1019.1 1547.8,1018.6 1556.5,1018.1 1565.1,1017.6 1573.7,1017.1 1582.3,1017.1 1590.9,1017.1 1599.6,1017.1 1608.2,1017.1 1616.8,1017.1 1625.4,1017.3 1634,1017.5 1642.7,1017.7 1651.3,1017.9 1659.9,1018.1 1668.5,1018.3 1677.1,1018.5 1685.8,1018.7 1694.4,1018.9 1703,1019.1 1711.6,1019.4 1720.2,1019.7 1728.9,1020 1737.5,1020.3 1746.1,1020.6 1754.7,1020.9 1763.3,1021.1 1772,1021.4 1780.6,1021.7 1789.2,1022 1797.8,1022.4 1806.4,1022.8 1815.1,1023.2 1823.7,1023.6 1832.3,1024 1840.9,1024.4 1849.5,1024.8 1858.2,1025.2 1866.8,1025.6 1875.4,1026 1884,1026.4 1892.6,1026.8 1901.3,1027.2 1909.9,1027.6 1918.5,1028"/>
<path class="cb" stroke="#f8f47c" stroke-width="7.7" d="M203.1,812.1 211.7,732.5 220.4,677.8 229,687.7 237.6,662.9 246.2,633 254.8,627 263.5,638 272.1,652.9 280.7,667.8 289.3,682.8 297.9,697.7 306.6,715.1 315.2,697.7 323.8,684.7 332.4,687.7 341,712.6 349.7,742.5 358.3,770.3 366.9,782.2 375.5,792.2 384.1,799.2 392.8,804.6 401.4,810.1 410,815.1 418.6,820.1 427.2,825 435.9,830 444.5,834 453.1,843.9 461.7,822 470.3,836 479,802.1 487.6,752.4 496.2,682.8 504.8,593.2 513.4,489.7 522.1,433.5 530.7,452.9 539.3,658 547.9,439.4 556.5,411.2 565.2,427.4 573.8,435.1 582.4,471.3 591,526.5 599.6,511 608.3,466.7 616.9,471.6 625.5,477.1 634.1,484 642.7,485.6 651.4,498.2 660,555.7 668.6,628.5 677.2,685.8 685.8,752 694.5,855.1 703.1,855.5 711.7,801.5 720.3,738.8 728.9,673.6 737.6,619.9 746.2,597.1 754.8,600 763.4,597.4 772,601.1 780.7,603 789.3,607.6 797.9,613.7 806.5,628.1 815.1,643.1 823.8,648 832.4,664.2 841,706.9 849.6,775.9 858.2,901.6 866.9,951.8 875.5,925.9 884.1,932 892.7,892.5 901.3,814.2 910,802.6 918.6,801.2 927.2,800 935.8,800.3 944.4,799.3 953.1,792.9 961.7,787.5 970.3,790.6 978.9,802.5 987.5,813.3 996.2,804.8 1004.8,802.1 1013.4,811.2 1022,805.4 1030.6,804.8 1039.3,814.8 1047.9,840 1056.5,872.9 1065.1,905.6 1073.7,954.6 1082.4,1014.2 1091,1020.8 1099.6,1020.4 1108.2,1017.9 1116.8,1015 1125.5,1008 1134.1,1002.7 1142.7,1009.5 1151.3,1000.4 1159.9,985.2 1168.6,971.4 1177.2,963.8 1185.8,959.2 1194.4,956.2 1203,955.3 1211.7,955.3 1220.3,960 1228.9,963.1 1237.5,962.2 1246.1,960.9 1254.8,963.1 1263.4,963.8 1272,960.9 1280.6,960.9 1289.2,964.7 1297.9,966.1 1306.5,967.5 1315.1,969.2 1323.7,971.4 1332.3,973.7 1341,976.9 1349.6,979.8 1358.2,982.4 1366.8,985.2 1375.4,988.2 1384.1,991.2 1392.7,995.7 1401.3,1001.9 1409.9,1010.6 1418.5,1018.7 1427.2,1024.8 1435.8,1026.3 1444.4,1026 1453,1024.3 1461.6,1019.7 1470.3,1014.7 1478.9,1013.9 1487.5,1017.5 1496.1,1023.7 1504.7,1022.8 1513.4,1015.3 1522,1011.9 1530.6,1013.1 1539.2,1016.5 1547.8,1016.5 1556.5,1013.5 1565.1,1010.4 1573.7,1009.5 1582.3,1009.4 1590.9,1009.2 1599.6,1009.6 1608.2,1010 1616.8,1010.7 1625.4,1011.5 1634,1012.3 1642.7,1013.1 1651.3,1013.3 1659.9,1013.5 1668.5,1013.6 1677.1,1013.8 1685.8,1014.2 1694.4,1014.7 1703,1015 1711.6,1015.3 1720.2,1016 1728.9,1016.7 1737.5,1017.4 1746.1,1018.1 1754.7,1018.4 1763.3,1018.8 1772,1019.1 1780.6,1019.5 1789.2,1019.9 1797.8,1020.4 1806.4,1021 1815.1,1021.5 1823.7,1022 1832.3,1022.6 1840.9,1023.1 1849.5,1023.6 1858.2,1024.2 1866.8,1024.7 1875.4,1025.2 1884,1025.6 1892.6,1026.1 1901.3,1026.5 1909.9,1027.4 1918.5,1028.2"/>
<path class="cb" stroke="#28033a" stroke-width="7.7" d="M203.1,710.6 211.7,588.2 220.4,546.4 229,543.5 237.6,508.6 246.2,424.1 254.8,394.2 263.5,403.2 272.1,397.2 280.7,427 289.3,421.1 297.9,423.1 306.6,441 315.2,422.1 323.8,413.1 332.4,414.1 341,426 349.7,444 358.3,453.9 366.9,459.9 375.5,459.9 384.1,458.9 392.8,467.8 401.4,478.8 410,477.8 418.6,476.8 427.2,499.7 435.9,488.7 444.5,488.7 453.1,540.5 461.7,534.5 470.3,548.4 479,530.5 487.6,512.6 496.2,543.5 504.8,571.8 513.4,533.5 522.1,487.7 530.7,495.7 539.3,708.6 547.9,506.6 556.5,493.7 565.2,518.6 573.8,537.5 582.4,580.8 591,620.1 599.6,593.2 608.3,562.4 616.9,568.3 625.5,572.3 634.1,578.7 642.7,578.7 651.4,587.2 660,662.9 668.6,722.5 677.2,752.4 685.8,796.2 694.5,889.7 703.1,875.8 711.7,851.9 720.3,817.1 728.9,768.3 737.6,697.7 746.2,659.3 754.8,671.8 763.4,675.8 772,683.7 780.7,688.1 789.3,696.7 797.9,708.6 806.5,727.5 815.1,745.8 823.8,752.4 832.4,767.3 841,789.2 849.6,865.4 858.2,947.9 866.9,964.3 875.5,937.5 884.1,945.8 892.7,911.6 901.3,844.9 910,828.3 918.6,827 927.2,826 935.8,824.2 944.4,820.1 953.1,807.7 961.7,801.6 970.3,805.7 978.9,824.2 987.5,842.9 996.2,832.5 1004.8,826.3 1013.4,842.9 1022,835 1030.6,832.5 1039.3,844.9 1047.9,869.8 1056.5,898.7 1065.1,927.5 1073.7,971.3 1082.4,1017.1 1091,1019.8 1099.6,1018.1 1108.2,1013.1 1116.8,1006.1 1125.5,989.6 1134.1,980 1142.7,992.2 1151.3,975.9 1159.9,948.4 1168.6,923.5 1177.2,909.9 1185.8,901.6 1194.4,896.2 1203,894.7 1211.7,894.7 1220.3,903 1228.9,908.6 1237.5,907.1 1246.1,904.6 1254.8,908.6 1263.4,909.9 1272,904.6 1280.6,904.6 1289.2,911.6 1297.9,914 1306.5,916.6 1315.1,919.6 1323.7,923.5 1332.3,927.7 1341,933.5 1349.6,938.8 1358.2,943.4 1366.8,948.4 1375.4,953.9 1384.1,959.4 1392.7,967.3 1401.3,978.6 1409.9,994.2 1418.5,1008.8 1427.2,1019.8 1435.8,1022.5 1444.4,1022 1453,1018.1 1461.6,1007.6 1470.3,994.6 1478.9,989.2 1487.5,998.2 1496.1,1013.1 1504.7,1011.1 1513.4,992.7 1522,984.5 1530.6,987.2 1539.2,995.7 1547.8,995.7 1556.5,988.2 1565.1,980.9 1573.7,978.7 1582.3,978.3 1590.9,977.9 1599.6,978.8 1608.2,979.8 1616.8,981.6 1625.4,983.4 1634,985.3 1642.7,987.2 1651.3,987.7 1659.9,988.2 1668.5,988.6 1677.1,989 1685.8,990.1 1694.4,991.2 1703,991.9 1711.6,992.7 1720.2,994.4 1728.9,996.2 1737.5,997.8 1746.1,999.5 1754.7,1000.3 1763.3,1001.2 1772,1002.1 1780.6,1003 1789.2,1003.8 1797.8,1005.2 1806.4,1006.5 1815.1,1007.8 1823.7,1009.2 1832.3,1010.5 1840.9,1011.8 1849.5,1013.1 1858.2,1014.3 1866.8,1015.6 1875.4,1016.9 1884,1017.9 1892.6,1019 1901.3,1020.1 1909.9,1022.1 1918.5,1024.2"/>
</g></g>
<rect x="1453" y="39" width="459" height="938" fill="#fff"/>
<g filter="url(#bt)">
<text x="1476" y="82.5" font-size="51" font-weight="bold" fill="#000" textLength="347" lengthAdjust="spacingAndGlyphs">a. Indian Pines</text>
<path d="M1469 116.3H1556" stroke="#c41e9b" stroke-width="8.5"/>
<text x="1569.5" y="125.5" font-size="27.8" fill="#000" stroke="#000" stroke-width="0.45">Brocoli_green_weeds_1</text>
<path d="M1469 171.8H1556" stroke="#00b3a0" stroke-width="8.5"/>
<text x="1569.5" y="181" font-size="27.8" fill="#000" stroke="#000" stroke-width="0.45">Brocoli_green_weeds_2</text>
<path d="M1469 227.3H1556" stroke="#1e7396" stroke-width="8.5"/>
<text x="1569.5" y="236.5" font-size="27.8" fill="#000" stroke="#000" stroke-width="0.45">Fallow</text>
<path d="M1469 282.8H1556" stroke="#4a4694" stroke-width="8.5"/>
<text x="1569.5" y="292" font-size="27.8" fill="#000" stroke="#000" stroke-width="0.45">Fallow_rough_plow</text>
<path d="M1469 338.3H1556" stroke="#c6c9b2" stroke-width="8.5"/>
<text x="1569.5" y="347.5" font-size="27.8" fill="#000" stroke="#000" stroke-width="0.45">Fallow_smooth</text>
<path d="M1469 393.8H1556" stroke="#065c8f" stroke-width="8.5"/>
<text x="1569.5" y="403" font-size="27.8" fill="#000" stroke="#000" stroke-width="0.45">Stubble</text>
<path d="M1469 449.3H1556" stroke="#6e0032" stroke-width="8.5"/>
<text x="1569.5" y="458.5" font-size="27.8" fill="#000" stroke="#000" stroke-width="0.45">Celery</text>
<path d="M1469 504.8H1556" stroke="#8438d0" stroke-width="8.5"/>
<text x="1569.5" y="514" font-size="27.8" fill="#000" stroke="#000" stroke-width="0.45">Grapes_untrained</text>
<path d="M1469 560.3H1556" stroke="#62ba0e" stroke-width="8.5"/>
<text x="1569.5" y="569.5" font-size="27.8" fill="#000" stroke="#000" stroke-width="0.45">Soil_vinyard_develop</text>
<path d="M1469 615.8H1556" stroke="#70c4d4" stroke-width="8.5"/>
<text x="1569.5" y="625" font-size="27.8" fill="#000" stroke="#000" stroke-width="0.45">Corn_senesced_green_weeds</text>
<path d="M1469 671.3H1556" stroke="#6ee887" stroke-width="8.5"/>
<text x="1569.5" y="680.5" font-size="27.8" fill="#000" stroke="#000" stroke-width="0.45">Lettuce_romaine_4wk</text>
<path d="M1469 726.8H1556" stroke="#cc1c1c" stroke-width="8.5"/>
<text x="1569.5" y="736" font-size="27.8" fill="#000" stroke="#000" stroke-width="0.45">Lettuce_romaine_5wk</text>
<path d="M1469 782.3H1556" stroke="#52b456" stroke-width="8.5"/>
<text x="1569.5" y="791.5" font-size="27.8" fill="#000" stroke="#000" stroke-width="0.45">Lettuce_romaine_6wk</text>
<path d="M1469 837.8H1556" stroke="#f4c684" stroke-width="8.5"/>
<text x="1569.5" y="847" font-size="27.8" fill="#000" stroke="#000" stroke-width="0.45">Lettuce_romaine_7wk</text>
<path d="M1469 893.3H1556" stroke="#f6f396" stroke-width="8.5"/>
<text x="1569.5" y="902.5" font-size="27.8" fill="#000" stroke="#000" stroke-width="0.45">Vinyard_untrained</text>
<path d="M1469 948.8H1556" stroke="#28033a" stroke-width="8.5"/>
<text x="1569.5" y="958" font-size="27.8" fill="#000" stroke="#000" stroke-width="0.45">Vinyard_vertical_trellis</text>
</g>
<rect class="fr" stroke-width="5.8" x="193.1" y="36.1" width="1778.8" height="994.8"/>
<g filter="url(#bt)" font-size="41.5" fill="#1c1c1c">
<text x="193" y="1082.5" text-anchor="middle">0</text>
<text x="624" y="1082.5" text-anchor="middle">50</text>
<text x="1055" y="1082.5" text-anchor="middle">100</text>
<text x="1486" y="1082.5" text-anchor="middle">150</text>
<text x="1917" y="1082.5" text-anchor="middle">200</text>
<text x="181" y="1044.4" text-anchor="end">0</text>
<text x="181" y="845.8" text-anchor="end">0.2</text>
<text x="181" y="647.2" text-anchor="end">0.4</text>
<text x="181" y="448.6" text-anchor="end">0.6</text>
<text x="181" y="250" text-anchor="end">0.8</text>
<text x="181" y="51.4" text-anchor="end">1</text>
<text font-size="52" text-anchor="middle" transform="translate(68.7 534) rotate(-90)">Radiance</text>
</g>
</g>
<g id="chart-b">
<clipPath id="cpb"><rect x="198.3" y="1203" width="1773.7" height="984.5"/></clipPath>
<path class="g" d="M629.5 1203V2187.4M1059.2 1203V2187.4M1488.9 1203V2187.4M1918.6 1203V2187.4M198.3 1989.4H1972M198.3 1793.4H1972M198.3 1597.3H1972M198.3 1401.3H1972"/>
<g clip-path="url(#cpb)"><g filter="url(#bl)">
<path class="cb" stroke="#c8189c" stroke-width="6.8" d="M208.4,2140.1 217,2136.8 225.6,2124.1 234.2,2086.3 242.8,2058.9 251.4,2052 260,2062.3 268.6,2055.4 277.1,2041.7 285.7,2036.5 294.3,2041.7 302.9,2046.8 311.5,2057.1 320.1,2058 328.7,2058.9 337.3,2055.4 345.9,2034.8 354.5,2019.4 363.1,2009.1 371.7,2010.8 380.3,2022.8 388.9,2036.5 397.5,2046.8 406.1,2057.1 414.6,2064 423.2,2070.9 431.8,2076 440.4,2081.2 449,2086.3 457.6,2091.5 466.2,2092.6 474.8,2093.8 483.4,2094.9 492,2094.9 500.6,2094.9 509.2,2081.2 517.8,2017.3 526.4,1921.5 535,1801.7 543.6,1682 552.2,1506.3 560.7,1282.7 569.3,1586.9 577.9,1306.4 586.5,1236.1 595.1,1262.1 603.7,1286.7 612.3,1313.3 620.9,1447.1 629.5,1414.6 638.1,1363.9 646.7,1359.5 655.3,1386.1 663.9,1394 672.5,1395 681.1,1416 689.7,1493.4 698.3,1560.5 706.8,1629.2 715.4,1639.6 724,1916.7 732.6,1929.5 741.2,1901.9 749.8,1833 758.4,1774 767,1721.8 775.6,1680.9 784.2,1675.5 792.8,1669.9 801.4,1663 810,1658.9 818.6,1658.4 827.2,1661.7 835.8,1672.6 844.3,1683.7 852.9,1697.4 861.5,1719.3 870.1,1752.3 878.7,1807.4 887.3,1960 895.9,2054.5 904.5,2062.4 913.1,2085.8 921.7,2089.6 930.3,2049.6 938.9,2030.8 947.5,2035.8 956.1,2027.4 964.7,2035.8 973.3,2030.8 981.9,2023.9 990.4,2017.1 999,2016.2 1007.6,2020.5 1016.2,2037.6 1024.8,2048 1033.4,2032.5 1042,2048 1050.6,2039.5 1059.2,2033.4 1067.8,2036.7 1076.4,2049.6 1085,2073.4 1093.6,2097.3 1102.2,2122.9 1110.8,2151.9 1119.4,2182.5 1128,2182.1 1136.5,2180.8 1145.1,2179.5 1153.7,2178.9 1162.3,2178.3 1170.9,2177.7 1179.5,2176.7 1188.1,2175.6 1196.7,2168.9 1205.3,2160.2 1213.9,2154.6 1222.5,2151.3 1231.1,2149.1 1239.7,2148 1248.3,2146.9 1256.9,2148 1265.5,2149.1 1274,2148 1282.6,2146.9 1291.2,2146.1 1299.8,2145.2 1308.4,2144.8 1317,2144.3 1325.6,2144.8 1334.2,2145.2 1342.8,2146.1 1351.4,2146.9 1360,2148.7 1368.6,2150.4 1377.2,2152.5 1385.8,2154.6 1394.4,2156.8 1403,2159 1411.6,2161.8 1420.1,2164.6 1428.7,2167.8 1437.3,2171.1 1445.9,2174.9 1454.5,2178.7 1463.1,2181.1 1471.7,2181.1 1480.3,2182.5 1488.9,2182.3 1497.5,2180.4 1506.1,2178.5 1514.7,2177.8 1523.3,2179.7 1531.9,2182.7 1540.5,2179.7 1549.1,2176.6 1557.7,2174.6 1566.2,2175.6 1574.8,2176.6 1583.4,2175.3 1592,2174.1 1600.6,2173.1 1609.2,2172.2 1617.8,2171.9 1626.4,2171.6 1635,2171.6 1643.6,2171.6 1652.2,2171.6 1660.8,2171.6 1669.4,2171.8 1678,2171.9 1686.6,2172 1695.2,2172.1 1703.7,2172.2 1712.3,2172.5 1720.9,2172.7 1729.5,2173 1738.1,2173.3 1746.7,2173.6 1755.3,2174.2 1763.9,2174.8 1772.5,2175.4 1781.1,2176 1789.7,2176.6 1798.3,2177.1 1806.9,2177.6 1815.5,2178.1 1824.1,2178.5 1832.7,2179 1841.3,2179.4 1849.8,2179.8 1858.4,2180.2 1867,2180.6 1875.6,2181 1884.2,2181.2 1892.8,2181.4 1901.4,2181.6 1910,2181.8 1918.6,2182 1927.2,2182.2 1935.8,2182.3 1944.4,2182.5 1953,2182.7"/>
<path class="cb" stroke="#00b5a2" stroke-width="6.8" d="M208.4,2140.1 217,2133.4 225.6,2117.2 234.2,2070.9 242.8,2041.7 251.4,2034.8 260,2040 268.6,2022.8 277.1,2010.8 285.7,2005.6 294.3,2003.9 302.9,2002.2 311.5,2003.9 320.1,2005.6 328.7,2006.5 337.3,2007.4 345.9,1998.8 354.5,1985 363.1,1978.2 371.7,1981.6 380.3,1991.9 388.9,2009.1 397.5,2019.4 406.1,2029.7 414.6,2038.3 423.2,2046.8 431.8,2053.7 440.4,2060.6 449,2067.5 457.6,2074.3 466.2,2075.5 474.8,2076.6 483.4,2077.8 492,2079.5 500.6,2081.2 509.2,2070.9 517.8,2012.1 526.4,1924.7 535,1817.5 543.6,1710.7 552.2,1558.1 560.7,1367.6 569.3,1643.3 577.9,1389.1 586.5,1325.4 595.1,1348.3 603.7,1370.1 612.3,1393.6 620.9,1514.7 629.5,1484.7 638.1,1438 646.7,1433.5 655.3,1457.7 663.9,1464.9 672.5,1465.8 681.1,1485 689.7,1555.5 698.3,1616.6 706.8,1679.2 715.4,1688.6 724,1935 732.6,1947 741.2,1921.3 749.8,1857 758.4,1802 767,1753.3 775.6,1715.2 784.2,1710.2 792.8,1705 801.4,1698.5 810,1694.7 818.6,1694.2 827.2,1697.3 835.8,1707.4 844.3,1717.8 852.9,1730.6 861.5,1751 870.1,1781.8 878.7,1833.2 887.3,1975.4 895.9,2063.5 904.5,2070.8 913.1,2076.7 921.7,2051.7 930.3,1996.2 938.9,1970.1 947.5,1977.1 956.1,1965.4 964.7,1977.1 973.3,1970.1 981.9,1960.6 990.4,1951.1 999,1950 1007.6,1955.9 1016.2,1979.6 1024.8,1994.1 1033.4,1972.5 1042,1994.1 1050.6,1982.2 1059.2,1973.7 1067.8,1978.4 1076.4,1996.2 1085,2029.2 1093.6,2062.4 1102.2,2097.9 1110.8,2138.2 1119.4,2180.6 1128,2180.8 1136.5,2179.2 1145.1,2177.6 1153.7,2176.8 1162.3,2176 1170.9,2175.3 1179.5,2174 1188.1,2172.6 1196.7,2164.3 1205.3,2153.3 1213.9,2146.4 1222.5,2142.3 1231.1,2139.6 1239.7,2138.2 1248.3,2136.8 1256.9,2138.2 1265.5,2139.6 1274,2138.2 1282.6,2136.8 1291.2,2135.7 1299.8,2134.6 1308.4,2134.1 1317,2133.6 1325.6,2134.1 1334.2,2134.6 1342.8,2135.7 1351.4,2136.8 1360,2139 1368.6,2141.1 1377.2,2143.8 1385.8,2146.4 1394.4,2149.2 1403,2152 1411.6,2155.4 1420.1,2158.9 1428.7,2162.9 1437.3,2167 1445.9,2171.8 1454.5,2176.6 1463.1,2179.5 1471.7,2179.5 1480.3,2170.9 1488.9,2155.3 1497.5,2143.1 1506.1,2136 1514.7,2134.7 1523.3,2151.2 1531.9,2167.4 1540.5,2151.2 1549.1,2137.7 1557.7,2133.3 1566.2,2135.5 1574.8,2142.1 1583.4,2136.3 1592,2131.7 1600.6,2129.6 1609.2,2127.6 1617.8,2126.4 1626.4,2126.6 1635,2127 1643.6,2127.5 1652.2,2127.9 1660.8,2128.3 1669.4,2129.2 1678,2130.1 1686.6,2131 1695.2,2131.9 1703.7,2132.8 1712.3,2134.4 1720.9,2135.9 1729.5,2137.5 1738.1,2138.4 1746.7,2139.3 1755.3,2141.4 1763.9,2143.4 1772.5,2145.5 1781.1,2147.2 1789.7,2148.9 1798.3,2150.5 1806.9,2152.1 1815.5,2153.7 1824.1,2155.4 1832.7,2157.1 1841.3,2159 1849.8,2160.9 1858.4,2162.8 1867,2162.7 1875.6,2162.6 1884.2,2164.3 1892.8,2166 1901.4,2164.9 1910,2166.8 1918.6,2168.8 1927.2,2166.8 1935.8,2171.2 1944.4,2174.2 1953,2177"/>
<path class="cb" stroke="#1e7396" stroke-width="6.8" d="M208.4,2140.1 217,2120.7 225.6,2098.3 234.2,2033.1 242.8,1995.3 251.4,1985 260,1988.4 268.6,1961 277.1,1936.9 285.7,1926.6 294.3,1924.9 302.9,1923.2 311.5,1930.1 320.1,1924.9 328.7,1919.8 337.3,1916.3 345.9,1906 354.5,1897.4 363.1,1892.3 371.7,1888.9 380.3,1888 388.9,1887.1 397.5,1885.4 406.1,1883.7 414.6,1882 423.2,1883.7 431.8,1885.4 440.4,1883.7 449,1884.6 457.6,1885.4 466.2,1876.8 474.8,1876.8 483.4,1876.8 492,1878.6 500.6,1892.3 509.2,1899.2 517.8,1899.9 526.4,1900.8 535,1901.8 543.6,1902.7 552.2,1903.6 560.7,1904.2 569.3,1999.4 577.9,1911.6 586.5,1889.6 595.1,1895.1 603.7,1900.3 612.3,1906.3 620.9,1947.3 629.5,1934.5 638.1,1915.6 646.7,1911.8 655.3,1920.6 663.9,1923.2 672.5,1923.6 681.1,1930.6 689.7,1956.3 698.3,1978.7 706.8,2001.6 715.4,2005 724,2067.5 732.6,2073.2 741.2,2061 749.8,2030.5 758.4,2004.3 767,1981.2 775.6,1963.1 784.2,1960.7 792.8,1958.2 801.4,1955.2 810,1953.3 818.6,1953.1 827.2,1954.6 835.8,1959.4 844.3,1964.3 852.9,1970.4 861.5,1980.1 870.1,1994.7 878.7,2019.1 887.3,2086.7 895.9,2128.5 904.5,2132 913.1,2107.1 921.7,2045.7 930.3,1987.7 938.9,1960.5 947.5,1967.8 956.1,1955.6 964.7,1967.8 973.3,1960.5 981.9,1950.6 990.4,1940.7 999,1939.5 1007.6,1945.7 1016.2,1970.5 1024.8,1985.5 1033.4,1963 1042,1985.5 1050.6,1973.1 1059.2,1964.3 1067.8,1969.1 1076.4,1987.7 1085,2022.3 1093.6,2056.9 1102.2,2094 1110.8,2136 1119.4,2180.3 1128,2176.1 1136.5,2171.3 1145.1,2166.2 1153.7,2158.4 1162.3,2150.9 1170.9,2149.5 1179.5,2148.8 1188.1,2131.9 1196.7,2105.9 1205.3,2088.9 1213.9,2080 1222.5,2074.8 1231.1,2071.7 1239.7,2070.3 1248.3,2070.1 1256.9,2075.4 1265.5,2081.3 1274,2079.7 1282.6,2078 1291.2,2079.2 1299.8,2077.1 1308.4,2076.5 1317,2078 1325.6,2080 1334.2,2082.1 1342.8,2084.5 1351.4,2086.9 1360,2090 1368.6,2093.1 1377.2,2097.2 1385.8,2101.3 1394.4,2106 1403,2110.6 1411.6,2115.7 1420.1,2120.7 1428.7,2126.5 1437.3,2137.6 1445.9,2153.1 1454.5,2166.3 1463.1,2176.9 1471.7,2176 1480.3,2172.9 1488.9,2162.9 1497.5,2153.7 1506.1,2147.7 1514.7,2146.3 1523.3,2158.3 1531.9,2170.9 1540.5,2158.3 1549.1,2147.1 1557.7,2142.8 1566.2,2145 1574.8,2149.9 1583.4,2145.3 1592,2141.3 1600.6,2139.2 1609.2,2137.2 1617.8,2136.2 1626.4,2136.1 1635,2136.4 1643.6,2136.6 1652.2,2136.9 1660.8,2137.2 1669.4,2137.8 1678,2138.5 1686.6,2139.1 1695.2,2139.8 1703.7,2140.4 1712.3,2141.7 1720.9,2142.9 1729.5,2144.1 1738.1,2144.9 1746.7,2145.7 1755.3,2147.5 1763.9,2149.3 1772.5,2151.1 1781.1,2152.7 1789.7,2154.2 1798.3,2155.6 1806.9,2157.1 1815.5,2158.5 1824.1,2159.9 1832.7,2161.4 1841.3,2162.9 1849.8,2164.5 1858.4,2166 1867,2166.3 1875.6,2166.5 1884.2,2167.7 1892.8,2169 1901.4,2168.4 1910,2169.8 1918.6,2171.2 1927.2,2170.1 1935.8,2173 1944.4,2175.1 1953,2177"/>
<path class="cb" stroke="#4a4694" stroke-width="6.8" d="M208.4,2140.1 217,2132.7 225.6,2115.5 234.2,2067.5 242.8,2038.3 251.4,2031.4 260,2034.8 268.6,2015.9 277.1,2005.6 285.7,2002.2 294.3,2003.3 302.9,2004.5 311.5,2005.6 320.1,2003.9 328.7,2002.2 337.3,1998.8 345.9,1995.3 354.5,1990.2 363.1,1985 371.7,1983.3 380.3,1984.2 388.9,1985 397.5,1985 406.1,1985 414.6,1985 423.2,1987.6 431.8,1990.2 440.4,1991.9 449,1992.8 457.6,1993.6 466.2,1990.2 474.8,1991 483.4,1991.9 492,1993.6 500.6,1995.3 509.2,1998.8 517.8,1999 526.4,1999.2 535,1999.5 543.6,1999.8 552.2,2000 560.7,2000.2 569.3,2063.1 577.9,2005.1 586.5,1990.5 595.1,1994.2 603.7,1997.8 612.3,2001.8 620.9,2028.9 629.5,2020.6 638.1,2008.1 646.7,2005.7 655.3,2011.5 663.9,2013.2 672.5,2013.5 681.1,2018.1 689.7,2035.1 698.3,2049.8 706.8,2064.9 715.4,2067.2 724,2106.8 732.6,2110.6 741.2,2102.4 749.8,2081.9 758.4,2064.3 767,2048.8 775.6,2036.6 784.2,2035 792.8,2033.3 801.4,2031.3 810,2030 818.6,2029.9 827.2,2030.9 835.8,2034.1 844.3,2037.4 852.9,2041.5 861.5,2048 870.1,2057.9 878.7,2074.3 887.3,2119.7 895.9,2147.8 904.5,2150.2 913.1,2142.8 921.7,2118.4 930.3,2090.2 938.9,2077 947.5,2080.5 956.1,2074.5 964.7,2080.5 973.3,2077 981.9,2072.1 990.4,2067.3 999,2066.7 1007.6,2069.7 1016.2,2081.8 1024.8,2089.1 1033.4,2078.2 1042,2089.1 1050.6,2083.1 1059.2,2078.8 1067.8,2081.1 1076.4,2090.2 1085,2107 1093.6,2123.9 1102.2,2141.9 1110.8,2162.4 1119.4,2184 1128,2179.1 1136.5,2176.8 1145.1,2174.3 1153.7,2172.4 1162.3,2170.6 1170.9,2169.6 1179.5,2168.1 1188.1,2164.3 1196.7,2152 1205.3,2138.5 1213.9,2130.2 1222.5,2125.3 1231.1,2122.1 1239.7,2120.5 1248.3,2119.1 1256.9,2121.2 1265.5,2123.5 1274,2121.9 1282.6,2120.2 1291.2,2119.3 1299.8,2117.9 1308.4,2117.3 1317,2117 1325.6,2117.8 1334.2,2118.7 1342.8,2120.1 1351.4,2121.6 1360,2124.2 1368.6,2126.8 1377.2,2130.1 1385.8,2133.4 1394.4,2136.9 1403,2140.3 1411.6,2144.5 1420.1,2148.8 1428.7,2153.7 1437.3,2159.5 1445.9,2166.6 1454.5,2173.4 1463.1,2177.9 1471.7,2177.8 1480.3,2176.7 1488.9,2173.4 1497.5,2168.2 1506.1,2164 1514.7,2162.6 1523.3,2168.7 1531.9,2176.3 1540.5,2168.7 1549.1,2161.3 1557.7,2157.5 1566.2,2159.4 1574.8,2162.1 1583.4,2159.2 1592,2156.4 1600.6,2154.5 1609.2,2152.6 1617.8,2152 1626.4,2151.6 1635,2151.7 1643.6,2151.8 1652.2,2151.9 1660.8,2152 1669.4,2152.3 1678,2152.6 1686.6,2152.9 1695.2,2153.3 1703.7,2153.6 1712.3,2154.3 1720.9,2155.1 1729.5,2155.9 1738.1,2156.5 1746.7,2157.1 1755.3,2158.4 1763.9,2159.7 1772.5,2161 1781.1,2162.2 1789.7,2163.4 1798.3,2164.5 1806.9,2165.6 1815.5,2166.6 1824.1,2167.7 1832.7,2168.8 1841.3,2169.8 1849.8,2170.7 1858.4,2171.7 1867,2172.3 1875.6,2172.9 1884.2,2173.5 1892.8,2174.1 1901.4,2174.2 1910,2174.9 1918.6,2175.5 1927.2,2175.4 1935.8,2176.5 1944.4,2177.4 1953,2178.2"/>
<path class="cb" stroke="#c6c9b2" stroke-width="6.8" d="M208.4,2140.1 217,2137.9 225.6,2119.7 234.2,2069.9 242.8,2039 251.4,2032.1 260,2035.6 268.6,2011.5 277.1,1999.5 285.7,1994.4 294.3,1996.1 302.9,1997.8 311.5,2001.2 320.1,1999.5 328.7,1997.8 337.3,1994.4 345.9,1980.6 354.5,1960 363.1,1946.3 371.7,1942.9 380.3,1953.2 388.9,1966.9 397.5,1972.1 406.1,1977.2 414.6,1980.6 423.2,1987.5 431.8,1994.4 440.4,1997.8 449,2003 457.6,2008.1 466.2,2004.7 474.8,2004.7 483.4,2004.7 492,2008.1 500.6,2015 509.2,1997.8 517.8,1988.4 526.4,1975.6 535,1962.8 543.6,1950.6 552.2,1939.2 560.7,1930.4 569.3,2016.8 577.9,1937.1 586.5,1917.2 595.1,1922.9 603.7,1928.3 612.3,1934.4 620.9,1971.8 629.5,1961 638.1,1944.6 646.7,1941.9 655.3,1949.8 663.9,1952.1 672.5,1952.4 681.1,1958.6 689.7,1981.6 698.3,2001.5 706.8,2021.9 715.4,2024.9 724,2080.1 732.6,2085.2 741.2,2074.3 749.8,2046.9 758.4,2023.5 767,2002.8 775.6,1986.7 784.2,1984.5 792.8,1982.3 801.4,1979.6 810,1977.9 818.6,1977.7 827.2,1979 835.8,1983.3 844.3,1987.8 852.9,1993.2 861.5,2001.9 870.1,2014.9 878.7,2036.8 887.3,2097.3 895.9,2134.7 904.5,2137.8 913.1,2129.4 921.7,2099.3 930.3,2063.3 938.9,2046.4 947.5,2050.9 956.1,2043.3 964.7,2050.9 973.3,2046.4 981.9,2040.2 990.4,2034 999,2033.3 1007.6,2037.1 1016.2,2052.5 1024.8,2061.9 1033.4,2047.9 1042,2061.9 1050.6,2054.2 1059.2,2048.7 1067.8,2051.7 1076.4,2063.3 1085,2084.7 1093.6,2106.3 1102.2,2129.3 1110.8,2155.5 1119.4,2183 1128,2178 1136.5,2175 1145.1,2172 1153.7,2168.8 1162.3,2165.8 1170.9,2164.6 1179.5,2163.2 1188.1,2156.7 1196.7,2141 1205.3,2126 1213.9,2117.1 1222.5,2111.8 1231.1,2108.3 1239.7,2106.7 1248.3,2105.4 1256.9,2108.3 1265.5,2111.4 1274,2109.7 1282.6,2107.9 1291.2,2107.4 1299.8,2105.8 1308.4,2105.1 1317,2105.1 1325.6,2106.2 1334.2,2107.4 1342.8,2109.1 1351.4,2110.8 1360,2113.7 1368.6,2116.6 1377.2,2120.2 1385.8,2123.9 1394.4,2127.8 1403,2131.7 1411.6,2136.3 1420.1,2141 1428.7,2146.4 1437.3,2153.6 1445.9,2162.7 1454.5,2171.1 1463.1,2177.1 1471.7,2176.8 1480.3,2174.4 1488.9,2167.5 1497.5,2160 1506.1,2154.7 1514.7,2153.2 1523.3,2162.6 1531.9,2173.1 1540.5,2162.6 1549.1,2153 1557.7,2148.8 1566.2,2150.9 1574.8,2154.9 1583.4,2151 1592,2147.5 1600.6,2145.5 1609.2,2143.4 1617.8,2142.6 1626.4,2142.3 1635,2142.5 1643.6,2142.7 1652.2,2142.9 1660.8,2143.1 1669.4,2143.6 1678,2144.1 1686.6,2144.6 1695.2,2145.1 1703.7,2145.6 1712.3,2146.7 1720.9,2147.7 1729.5,2148.7 1738.1,2149.5 1746.7,2150.2 1755.3,2151.8 1763.9,2153.4 1772.5,2155 1781.1,2156.4 1789.7,2157.8 1798.3,2159.1 1806.9,2160.4 1815.5,2161.7 1824.1,2163 1832.7,2164.3 1841.3,2165.6 1849.8,2166.9 1858.4,2168.2 1867,2168.7 1875.6,2169.1 1884.2,2170 1892.8,2171 1901.4,2170.8 1910,2171.8 1918.6,2172.9 1927.2,2172.3 1935.8,2174.4 1944.4,2175.9 1953,2177.3"/>
<path class="cb" stroke="#065c8f" stroke-width="6.8" d="M208.4,2140.1 217,2122.4 225.6,2094.9 234.2,2009.1 242.8,1971.3 251.4,1955.8 260,1961 268.6,1919.8 277.1,1892.3 285.7,1875.1 294.3,1868.3 302.9,1861.4 311.5,1868.3 320.1,1854.5 328.7,1846 337.3,1844.2 345.9,1823.6 354.5,1806.5 363.1,1794.4 371.7,1791 380.3,1787.6 388.9,1785.9 397.5,1784.1 406.1,1782.4 414.6,1777.3 423.2,1780.7 431.8,1784.1 440.4,1782.4 449,1787.6 457.6,1801.3 466.2,1791 474.8,1789.3 483.4,1790 492,1794.4 500.6,1806.5 509.2,1792.7 517.8,1734.6 526.4,1713.9 535,1739.5 543.6,1726.7 552.2,1695.2 560.7,1658.7 569.3,1836.5 577.9,1672.5 586.5,1631.4 595.1,1638.8 603.7,1645.8 612.3,1654.5 620.9,1729.9 629.5,1703.3 638.1,1664.5 646.7,1654.8 655.3,1671.9 663.9,1677 672.5,1677.6 681.1,1691.2 689.7,1741 698.3,1784.1 706.8,1828.3 715.4,1835 724,1967.3 732.6,1977.7 741.2,1955.3 749.8,1899.2 758.4,1851.2 767,1808.8 775.6,1775.5 784.2,1771.1 792.8,1766.6 801.4,1761 810,1757.6 818.6,1757.2 827.2,1759.9 835.8,1768.7 844.3,1777.8 852.9,1788.9 861.5,1806.8 870.1,1833.6 878.7,1878.4 887.3,2002.5 895.9,2079.3 904.5,2085.7 913.1,2076.8 921.7,2029.9 930.3,1965.4 938.9,1935.2 947.5,1943.3 956.1,1929.7 964.7,1943.3 973.3,1935.2 981.9,1924.2 990.4,1913.1 999,1911.8 1007.6,1918.7 1016.2,1946.2 1024.8,1963 1033.4,1938 1042,1963 1050.6,1949.2 1059.2,1939.3 1067.8,1944.7 1076.4,1965.4 1085,2003.8 1093.6,2042.3 1102.2,2083.5 1110.8,2130.3 1119.4,2179.5 1128,2176.7 1136.5,2172.8 1145.1,2168.6 1153.7,2163.1 1162.3,2157.7 1170.9,2156.4 1179.5,2155.3 1188.1,2143.5 1196.7,2122.2 1205.3,2105.7 1213.9,2096.4 1222.5,2091 1231.1,2087.6 1239.7,2086 1248.3,2085.3 1256.9,2089.4 1265.5,2094 1274,2092.3 1282.6,2090.5 1291.2,2090.7 1299.8,2088.9 1308.4,2088.2 1317,2088.9 1325.6,2090.6 1334.2,2092.2 1342.8,2094.3 1351.4,2096.4 1360,2099.5 1368.6,2102.6 1377.2,2106.6 1385.8,2110.6 1394.4,2115 1403,2119.4 1411.6,2124.4 1420.1,2129.4 1428.7,2135.3 1437.3,2144.6 1445.9,2157.1 1454.5,2168.2 1463.1,2176.7 1471.7,2176 1480.3,2170 1488.9,2151.6 1497.5,2138 1506.1,2130.4 1514.7,2129.2 1523.3,2147.9 1531.9,2165.8 1540.5,2147.9 1549.1,2133.3 1557.7,2129 1566.2,2131.1 1574.8,2138.5 1583.4,2132.2 1592,2127.2 1600.6,2125.3 1609.2,2123.3 1617.8,2122 1626.4,2122.3 1635,2122.8 1643.6,2123.3 1652.2,2123.9 1660.8,2124.4 1669.4,2125.4 1678,2126.4 1686.6,2127.4 1695.2,2128.4 1703.7,2129.4 1712.3,2131.2 1720.9,2132.9 1729.5,2134.7 1738.1,2135.6 1746.7,2136.5 1755.3,2138.7 1763.9,2140.9 1772.5,2143.1 1781.1,2144.9 1789.7,2146.6 1798.3,2148.3 1806.9,2150 1815.5,2151.7 1824.1,2153.4 1832.7,2155.2 1841.3,2157.2 1849.8,2159.3 1858.4,2161.4 1867,2161.1 1875.6,2160.8 1884.2,2162.8 1892.8,2164.7 1901.4,2163.3 1910,2165.5 1918.6,2167.8 1927.2,2165.4 1935.8,2170.5 1944.4,2173.9 1953,2177.2"/>
<path class="cb" stroke="#6e0032" stroke-width="6.8" d="M208.4,2140.1 217,2137.8 225.6,2125.8 234.2,2088.1 242.8,2060.6 251.4,2053.7 260,2064 268.6,2057.1 277.1,2043.4 285.7,2038.3 294.3,2044.3 302.9,2050.3 311.5,2060.6 320.1,2060.6 328.7,2060.6 337.3,2057.1 345.9,2036.5 354.5,2021.1 363.1,2007.4 371.7,2009.1 380.3,2022.8 388.9,2043.4 397.5,2053.7 406.1,2064 414.6,2072.6 423.2,2081.2 431.8,2088.1 440.4,2094.9 449,2100.1 457.6,2105.2 466.2,2106.9 474.8,2107.8 483.4,2108.7 492,2109.5 500.6,2110.4 509.2,2094.9 517.8,2032.7 526.4,1944.6 535,1846.8 543.6,1751.7 552.2,1636.7 560.7,1512.9 569.3,1739.7 577.9,1530.5 586.5,1478.1 595.1,1497 603.7,1514.9 612.3,1534.3 620.9,1634 629.5,1609.3 638.1,1570.9 646.7,1567.2 655.3,1587.1 663.9,1593 672.5,1593.8 681.1,1609.6 689.7,1667.5 698.3,1717.8 706.8,1769.3 715.4,1777 724,1973.5 732.6,1983.6 741.2,1961.8 749.8,1907.3 758.4,1860.7 767,1819.4 775.6,1787.1 784.2,1782.9 792.8,1778.4 801.4,1773 810,1769.7 818.6,1769.3 827.2,1772 835.8,1780.5 844.3,1789.3 852.9,1800.1 861.5,1817.5 870.1,1843.5 878.7,1887.1 887.3,2007.7 895.9,2082.4 904.5,2088.6 913.1,2099.3 921.7,2088.5 930.3,2048 938.9,2029 947.5,2034.1 956.1,2025.5 964.7,2034.1 973.3,2029 981.9,2022.1 990.4,2015.1 999,2014.3 1007.6,2018.6 1016.2,2035.9 1024.8,2046.4 1033.4,2030.7 1042,2046.4 1050.6,2037.8 1059.2,2031.6 1067.8,2035 1076.4,2048 1085,2072.1 1093.6,2096.3 1102.2,2122.2 1110.8,2151.5 1119.4,2182.5 1128,2181.6 1136.5,2180.2 1145.1,2178.7 1153.7,2178.1 1162.3,2177.4 1170.9,2176.7 1179.5,2175.6 1188.1,2174.4 1196.7,2167 1205.3,2157.4 1213.9,2151.4 1222.5,2147.7 1231.1,2145.3 1239.7,2144.1 1248.3,2142.9 1256.9,2144.1 1265.5,2145.3 1274,2144.1 1282.6,2142.9 1291.2,2141.9 1299.8,2141 1308.4,2140.5 1317,2140 1325.6,2140.5 1334.2,2141 1342.8,2141.9 1351.4,2142.9 1360,2144.8 1368.6,2146.7 1377.2,2149 1385.8,2151.4 1394.4,2153.8 1403,2156.2 1411.6,2159.2 1420.1,2162.3 1428.7,2165.9 1437.3,2169.5 1445.9,2173.7 1454.5,2177.9 1463.1,2180.5 1471.7,2180.5 1480.3,2181.6 1488.9,2181.3 1497.5,2179.1 1506.1,2176.9 1514.7,2176 1523.3,2178.3 1531.9,2181.8 1540.5,2178.3 1549.1,2174.5 1557.7,2172.3 1566.2,2173.4 1574.8,2174.5 1583.4,2173.1 1592,2171.6 1600.6,2170.5 1609.2,2169.3 1617.8,2169 1626.4,2168.7 1635,2168.7 1643.6,2168.7 1652.2,2168.7 1660.8,2168.7 1669.4,2168.8 1678,2168.9 1686.6,2169.1 1695.2,2169.2 1703.7,2169.3 1712.3,2169.7 1720.9,2170 1729.5,2170.3 1738.1,2170.7 1746.7,2171 1755.3,2171.7 1763.9,2172.4 1772.5,2173.1 1781.1,2173.8 1789.7,2174.5 1798.3,2175.1 1806.9,2175.7 1815.5,2176.3 1824.1,2176.9 1832.7,2177.5 1841.3,2177.9 1849.8,2178.4 1858.4,2178.9 1867,2179.4 1875.6,2179.8 1884.2,2180.1 1892.8,2180.3 1901.4,2180.5 1910,2180.7 1918.6,2181 1927.2,2181.2 1935.8,2181.4 1944.4,2181.6 1953,2181.8"/>
<path class="cb" stroke="#9034dc" stroke-width="6.8" d="M208.4,2140.1 217,2135.4 225.6,2119 234.2,2076 242.8,2046.8 251.4,2040 260,2046.8 268.6,2029.7 277.1,2009.1 285.7,1998.8 294.3,2002.2 302.9,2005.6 311.5,2015.9 320.1,2017.7 328.7,2019.4 337.3,2014.2 345.9,2009.1 354.5,2002.2 363.1,1995.3 371.7,1998.8 380.3,2007.4 388.9,2015.9 397.5,2018.5 406.1,2021.1 414.6,2022.8 423.2,2024.5 431.8,2026.2 440.4,2029.7 449,2032.3 457.6,2034.8 466.2,2034.8 474.8,2034.8 483.4,2034.8 492,2036.5 500.6,2038.3 509.2,2029.7 517.8,1998.6 526.4,1956.4 535,1914.2 543.6,1874.2 552.2,1836.5 560.7,1807.6 569.3,1935.3 577.9,1817.5 586.5,1788 595.1,1792.4 603.7,1796.6 612.3,1802 620.9,1855.8 629.5,1835.8 638.1,1806.9 646.7,1799.1 655.3,1811.5 663.9,1815.2 672.5,1815.7 681.1,1825.6 689.7,1861.9 698.3,1893.3 706.8,1925.6 715.4,1930.4 724,2029.4 732.6,2036.9 741.2,2020.8 749.8,1980.6 758.4,1946.1 767,1915.7 775.6,1891.8 784.2,1888.7 792.8,1885.4 801.4,1881.4 810,1879 818.6,1878.7 827.2,1880.6 835.8,1887 844.3,1893.5 852.9,1901.4 861.5,1914.3 870.1,1933.5 878.7,1965.7 887.3,2054.7 895.9,2109.8 904.5,2114.4 913.1,2113.8 921.7,2090.4 930.3,2050.8 938.9,2032.1 947.5,2037.1 956.1,2028.8 964.7,2037.1 973.3,2032.1 981.9,2025.4 990.4,2018.6 999,2017.7 1007.6,2022 1016.2,2038.9 1024.8,2049.2 1033.4,2033.8 1042,2049.2 1050.6,2040.8 1059.2,2034.7 1067.8,2038 1076.4,2050.8 1085,2074.4 1093.6,2098.1 1102.2,2123.5 1110.8,2152.3 1119.4,2182.6 1128,2178.5 1136.5,2175.8 1145.1,2173 1153.7,2170.4 1162.3,2167.9 1170.9,2166.8 1179.5,2165.4 1188.1,2160.1 1196.7,2145.9 1205.3,2131.4 1213.9,2122.8 1222.5,2117.6 1231.1,2114.2 1239.7,2112.6 1248.3,2111.3 1256.9,2113.8 1265.5,2116.5 1274,2114.9 1282.6,2113.1 1291.2,2112.4 1299.8,2110.9 1308.4,2110.2 1317,2110.1 1325.6,2111.1 1334.2,2112.1 1342.8,2113.7 1351.4,2115.3 1360,2118.1 1368.6,2120.9 1377.2,2124.4 1385.8,2127.9 1394.4,2131.6 1403,2135.4 1411.6,2139.8 1420.1,2144.3 1428.7,2149.6 1437.3,2156.1 1445.9,2164.4 1454.5,2172.1 1463.1,2177.4 1471.7,2177.2 1480.3,2175.9 1488.9,2171.6 1497.5,2165.6 1506.1,2161 1514.7,2159.7 1523.3,2166.8 1531.9,2175.3 1540.5,2166.8 1549.1,2158.6 1557.7,2154.7 1566.2,2156.6 1574.8,2159.8 1583.4,2156.5 1592,2153.5 1600.6,2151.5 1609.2,2149.6 1617.8,2148.9 1626.4,2148.5 1635,2148.7 1643.6,2148.8 1652.2,2148.9 1660.8,2149 1669.4,2149.4 1678,2149.8 1686.6,2150.2 1695.2,2150.5 1703.7,2150.9 1712.3,2151.8 1720.9,2152.6 1729.5,2153.4 1738.1,2154.1 1746.7,2154.8 1755.3,2156.2 1763.9,2157.6 1772.5,2158.9 1781.1,2160.2 1789.7,2161.5 1798.3,2162.7 1806.9,2163.8 1815.5,2165 1824.1,2166.1 1832.7,2167.3 1841.3,2168.4 1849.8,2169.5 1858.4,2170.5 1867,2171.1 1875.6,2171.6 1884.2,2172.3 1892.8,2173.1 1901.4,2173.1 1910,2173.8 1918.6,2174.6 1927.2,2174.4 1935.8,2175.8 1944.4,2176.8 1953,2177.8"/>
<path class="cb" stroke="#5cc010" stroke-width="6.8" d="M208.4,2140.1 217,2134.7 225.6,2110.7 234.2,2038.5 242.8,2000.8 251.4,1987 260,1990.5 268.6,1956.1 277.1,1928.6 285.7,1914.9 294.3,1913.2 302.9,1911.5 311.5,1918.3 320.1,1913.2 328.7,1908 337.3,1904.6 345.9,1890.9 354.5,1880.6 363.1,1873.7 371.7,1866.8 380.3,1863.4 388.9,1861.7 397.5,1860 406.1,1856.5 414.6,1853.1 423.2,1856.5 431.8,1856.5 440.4,1854.8 449,1856.5 457.6,1861.7 466.2,1842.8 474.8,1844.5 483.4,1844.5 492,1846.2 500.6,1863.4 509.2,1877.1 517.8,1874.7 526.4,1871.4 535,1868.1 543.6,1865 552.2,1862 560.7,1859.8 569.3,1969.9 577.9,1868.3 586.5,1842.9 595.1,1850 603.7,1856.8 612.3,1864.4 620.9,1912 629.5,1898.1 638.1,1877 646.7,1873.4 655.3,1883.5 663.9,1886.4 672.5,1886.8 681.1,1894.8 689.7,1924.2 698.3,1949.6 706.8,1975.7 715.4,1979.6 724,2053.4 732.6,2059.7 741.2,2046.1 749.8,2012 758.4,1982.8 767,1956.9 775.6,1936.7 784.2,1934 792.8,1931.3 801.4,1927.8 810,1925.8 818.6,1925.5 827.2,1927.2 835.8,1932.6 844.3,1938.1 852.9,1944.8 861.5,1955.7 870.1,1972 878.7,1999.3 887.3,2074.8 895.9,2121.6 904.5,2125.5 913.1,2115.5 921.7,2078.9 930.3,2034.4 938.9,2013.6 947.5,2019.2 956.1,2009.8 964.7,2019.2 973.3,2013.6 981.9,2006 990.4,1998.4 999,1997.4 1007.6,2002.2 1016.2,2021.2 1024.8,2032.7 1033.4,2015.5 1042,2032.7 1050.6,2023.2 1059.2,2016.4 1067.8,2020.2 1076.4,2034.4 1085,2060.9 1093.6,2087.4 1102.2,2115.8 1110.8,2148.1 1119.4,2182 1128,2175.7 1136.5,2170.3 1145.1,2164.4 1153.7,2154.8 1162.3,2145.5 1170.9,2143.9 1179.5,2143.6 1188.1,2122.4 1196.7,2092.6 1205.3,2075.7 1213.9,2067.2 1222.5,2062.4 1231.1,2059.6 1239.7,2058.4 1248.3,2058.9 1256.9,2065.1 1265.5,2072.1 1274,2070.6 1282.6,2069.1 1291.2,2071.1 1299.8,2069 1308.4,2068.4 1317,2070.5 1325.6,2073 1334.2,2075.4 1342.8,2078 1351.4,2080.6 1360,2083.6 1368.6,2086.6 1377.2,2090.7 1385.8,2094.8 1394.4,2099.5 1403,2104.3 1411.6,2109.3 1420.1,2114.2 1428.7,2119.9 1437.3,2132.3 1445.9,2150.2 1454.5,2165.1 1463.1,2177.5 1471.7,2176.2 1480.3,2171.5 1488.9,2158 1497.5,2146.8 1506.1,2140.1 1514.7,2138.7 1523.3,2153.6 1531.9,2168.6 1540.5,2153.6 1549.1,2140.9 1557.7,2136.6 1566.2,2138.7 1574.8,2144.8 1583.4,2139.4 1592,2134.9 1600.6,2132.9 1609.2,2130.8 1617.8,2129.7 1626.4,2129.8 1635,2130.1 1643.6,2130.5 1652.2,2130.9 1660.8,2131.3 1669.4,2132.1 1678,2132.9 1686.6,2133.7 1695.2,2134.5 1703.7,2135.3 1712.3,2136.8 1720.9,2138.2 1729.5,2139.7 1738.1,2140.5 1746.7,2141.4 1755.3,2143.4 1763.9,2145.4 1772.5,2147.3 1781.1,2149 1789.7,2150.7 1798.3,2152.2 1806.9,2153.8 1815.5,2155.3 1824.1,2156.9 1832.7,2158.5 1841.3,2160.3 1849.8,2162.1 1858.4,2163.9 1867,2163.9 1875.6,2163.9 1884.2,2165.4 1892.8,2167 1901.4,2166.1 1910,2167.8 1918.6,2169.6 1927.2,2167.9 1935.8,2171.8 1944.4,2174.4 1953,2176.9"/>
<path class="cb" stroke="#70c4d4" stroke-width="6.8" d="M208.4,2140.1 217,2127.5 225.6,2105.2 234.2,2040 242.8,2002.2 251.4,1991.9 260,1995.3 268.6,1967.9 277.1,1943.8 285.7,1933.5 294.3,1931.8 302.9,1930.1 311.5,1937 320.1,1931.8 328.7,1926.7 337.3,1923.2 345.9,1912.9 354.5,1904.3 363.1,1899.2 371.7,1895.7 380.3,1894.9 388.9,1894 397.5,1892.3 406.1,1890.6 414.6,1888.9 423.2,1890.6 431.8,1892.3 440.4,1890.6 449,1891.5 457.6,1892.3 466.2,1883.7 474.8,1883.7 483.4,1883.7 492,1885.4 500.6,1899.2 509.2,1906 517.8,1897.7 526.4,1886.4 535,1875.2 543.6,1864.5 552.2,1854.4 560.7,1846.7 569.3,1961.2 577.9,1855.6 586.5,1829.1 595.1,1835.7 603.7,1841.9 612.3,1849.1 620.9,1898.4 629.5,1883.1 638.1,1860.2 646.7,1855.7 655.3,1866.3 663.9,1869.5 672.5,1869.9 681.1,1878.3 689.7,1909.3 698.3,1936.2 706.8,1963.7 715.4,1967.9 724,2045.3 732.6,2052.1 741.2,2037.6 749.8,2001.4 758.4,1970.4 767,1943.1 775.6,1921.6 784.2,1918.8 792.8,1915.8 801.4,1912.2 810,1910.1 818.6,1909.8 827.2,1911.6 835.8,1917.2 844.3,1923.1 852.9,1930.3 861.5,1941.8 870.1,1959.1 878.7,1988 887.3,2068.1 895.9,2117.7 904.5,2121.8 913.1,2105 921.7,2055.1 930.3,2001 938.9,1975.6 947.5,1982.4 956.1,1970.9 964.7,1982.4 973.3,1975.6 981.9,1966.3 990.4,1957.1 999,1955.9 1007.6,1961.7 1016.2,1984.8 1024.8,1998.9 1033.4,1977.9 1042,1998.9 1050.6,1987.3 1059.2,1979 1067.8,1983.6 1076.4,2001 1085,2033.2 1093.6,2065.5 1102.2,2100.2 1110.8,2139.4 1119.4,2180.8 1128,2179.6 1136.5,2177.5 1145.1,2175.4 1153.7,2173.9 1162.3,2172.5 1170.9,2171.6 1179.5,2170.1 1188.1,2167.2 1196.7,2156.3 1205.3,2143.6 1213.9,2135.7 1222.5,2131 1231.1,2127.9 1239.7,2126.4 1248.3,2124.9 1256.9,2126.8 1265.5,2128.8 1274,2127.2 1282.6,2125.7 1291.2,2124.7 1299.8,2123.4 1308.4,2122.7 1317,2122.3 1325.6,2123.1 1334.2,2123.8 1342.8,2125.1 1351.4,2126.5 1360,2129 1368.6,2131.5 1377.2,2134.6 1385.8,2137.6 1394.4,2140.9 1403,2144.1 1411.6,2148.1 1420.1,2152.1 1428.7,2156.8 1437.3,2162 1445.9,2168.3 1454.5,2174.4 1463.1,2178.4 1471.7,2178.3 1480.3,2175.9 1488.9,2171.6 1497.5,2165.6 1506.1,2161 1514.7,2159.7 1523.3,2166.8 1531.9,2175.3 1540.5,2166.8 1549.1,2158.6 1557.7,2154.7 1566.2,2156.6 1574.8,2159.8 1583.4,2156.5 1592,2153.5 1600.6,2151.5 1609.2,2149.6 1617.8,2148.9 1626.4,2148.5 1635,2148.7 1643.6,2148.8 1652.2,2148.9 1660.8,2149 1669.4,2149.4 1678,2149.8 1686.6,2150.2 1695.2,2150.5 1703.7,2150.9 1712.3,2151.8 1720.9,2152.6 1729.5,2153.4 1738.1,2154.1 1746.7,2154.8 1755.3,2156.2 1763.9,2157.6 1772.5,2158.9 1781.1,2160.2 1789.7,2161.5 1798.3,2162.7 1806.9,2163.8 1815.5,2165 1824.1,2166.1 1832.7,2167.3 1841.3,2168.4 1849.8,2169.5 1858.4,2170.5 1867,2171.1 1875.6,2171.6 1884.2,2172.3 1892.8,2173.1 1901.4,2173.1 1910,2173.8 1918.6,2174.6 1927.2,2174.4 1935.8,2175.8 1944.4,2176.8 1953,2177.8"/>
<path class="cb" stroke="#44ec74" stroke-width="6.8" d="M208.4,2140.1 217,2125.8 225.6,2101.8 234.2,2029.7 242.8,1991.9 251.4,1978.2 260,1981.6 268.6,1947.3 277.1,1919.8 285.7,1906 294.3,1904.3 302.9,1902.6 311.5,1909.5 320.1,1904.3 328.7,1899.2 337.3,1895.7 345.9,1882 354.5,1871.7 363.1,1864.8 371.7,1858 380.3,1854.5 388.9,1852.8 397.5,1851.1 406.1,1847.7 414.6,1844.2 423.2,1847.7 431.8,1847.7 440.4,1846 449,1847.7 457.6,1852.8 466.2,1833.9 474.8,1835.7 483.4,1835.7 492,1837.4 500.6,1854.5 509.2,1868.3 517.8,1864.2 526.4,1858.7 535,1853.1 543.6,1847.9 552.2,1842.9 560.7,1839.2 569.3,1956.3 577.9,1848.3 586.5,1821.2 595.1,1827.5 603.7,1833.6 612.3,1840.5 620.9,1890.7 629.5,1874.7 638.1,1850.9 646.7,1845.8 655.3,1856.8 663.9,1860 672.5,1860.4 681.1,1869.1 689.7,1901.1 698.3,1928.8 706.8,1957.1 715.4,1961.4 724,2041.3 732.6,2048.2 741.2,2033.3 749.8,1996.2 758.4,1964.3 767,1936.1 775.6,1914.1 784.2,1911.2 792.8,1908.1 801.4,1904.4 810,1902.2 818.6,1901.9 827.2,1903.7 835.8,1909.6 844.3,1915.6 852.9,1923 861.5,1934.8 870.1,1952.6 878.7,1982.4 887.3,2064.7 895.9,2115.7 904.5,2119.9 913.1,2109.6 921.7,2070.7 930.3,2022.9 938.9,2000.5 947.5,2006.4 956.1,1996.4 964.7,2006.4 973.3,2000.5 981.9,1992.3 990.4,1984.1 999,1983.1 1007.6,1988.2 1016.2,2008.6 1024.8,2021 1033.4,2002.5 1042,2021 1050.6,2010.8 1059.2,2003.5 1067.8,2007.5 1076.4,2022.9 1085,2051.3 1093.6,2079.9 1102.2,2110.4 1110.8,2145.1 1119.4,2181.6 1128,2175.6 1136.5,2169.7 1145.1,2163.2 1153.7,2152 1162.3,2141.1 1170.9,2139.6 1179.5,2139.6 1188.1,2114.8 1196.7,2082.1 1205.3,2065.3 1213.9,2057.5 1222.5,2053 1231.1,2050.6 1239.7,2049.6 1248.3,2050.6 1256.9,2057.5 1265.5,2065.3 1274,2064.1 1282.6,2062.7 1291.2,2065.3 1299.8,2063.2 1308.4,2062.7 1317,2065.3 1325.6,2068.1 1334.2,2070.8 1342.8,2073.6 1351.4,2076.4 1360,2079.2 1368.6,2082.1 1377.2,2086.1 1385.8,2090.1 1394.4,2095 1403,2099.8 1411.6,2104.6 1420.1,2109.3 1428.7,2114.8 1437.3,2128.3 1445.9,2148 1454.5,2164.3 1463.1,2178 1471.7,2176.6 1480.3,2167.9 1488.9,2141.5 1497.5,2123.9 1506.1,2115.2 1514.7,2114.2 1523.3,2139.1 1531.9,2161.6 1540.5,2139.1 1549.1,2121.7 1557.7,2117.7 1566.2,2119.7 1574.8,2129.3 1583.4,2121.6 1592,2115.7 1600.6,2114.1 1609.2,2112.4 1617.8,2110.8 1626.4,2111.5 1635,2112.3 1643.6,2113 1652.2,2113.8 1660.8,2114.6 1669.4,2115.9 1678,2117.2 1686.6,2118.6 1695.2,2119.9 1703.7,2121.3 1712.3,2123.4 1720.9,2125.6 1729.5,2127.8 1738.1,2128.8 1746.7,2129.8 1755.3,2132.3 1763.9,2134.8 1772.5,2137.3 1781.1,2139.1 1789.7,2141 1798.3,2142.8 1806.9,2144.7 1815.5,2146.6 1824.1,2148.5 1832.7,2150.5 1841.3,2153 1849.8,2155.6 1858.4,2158.2 1867,2157.3 1875.6,2156.4 1884.2,2158.9 1892.8,2161.5 1901.4,2159.3 1910,2162.3 1918.6,2165.3 1927.2,2161.6 1935.8,2168.8 1944.4,2173.6 1953,2178.1"/>
<path class="cb" stroke="#de1a1a" stroke-width="6.8" d="M208.4,2140.1 217,2129.3 225.6,2108.7 234.2,2046.8 242.8,2009.1 251.4,2005.6 260,2002.2 268.6,1971.3 277.1,1955.8 285.7,1950.7 294.3,1950 302.9,1950.7 311.5,1955.8 320.1,1952.4 328.7,1947.3 337.3,1943.8 345.9,1933.5 354.5,1919.8 363.1,1912.9 371.7,1911.2 380.3,1910.3 388.9,1909.5 397.5,1908.9 406.1,1908.3 414.6,1907.8 423.2,1909.5 431.8,1911.2 440.4,1910.2 449,1912.4 457.6,1914.6 466.2,1906 474.8,1905.7 483.4,1905.4 492,1907.8 500.6,1919.8 509.2,1924.9 517.8,1918.4 526.4,1909.6 535,1900.8 543.6,1892.4 552.2,1884.5 560.7,1878.5 569.3,1982.4 577.9,1886.5 586.5,1862.5 595.1,1869 603.7,1875.1 612.3,1882.1 620.9,1926.9 629.5,1913.5 638.1,1893.3 646.7,1889.6 655.3,1899.2 663.9,1902 672.5,1902.4 681.1,1909.9 689.7,1937.8 698.3,1961.9 706.8,1986.6 715.4,1990.4 724,2060.1 732.6,2066.1 741.2,2053.2 749.8,2020.8 758.4,1993 767,1968.5 775.6,1949.2 784.2,1946.7 792.8,1944.1 801.4,1940.8 810,1938.9 818.6,1938.6 827.2,1940.2 835.8,1945.3 844.3,1950.5 852.9,1957 861.5,1967.3 870.1,1982.8 878.7,2008.7 887.3,2080.5 895.9,2124.9 904.5,2128.6 913.1,2120 921.7,2086.8 930.3,2045.6 938.9,2026.3 947.5,2031.4 956.1,2022.7 964.7,2031.4 973.3,2026.3 981.9,2019.2 990.4,2012.2 999,2011.3 1007.6,2015.7 1016.2,2033.3 1024.8,2044 1033.4,2028 1042,2044 1050.6,2035.2 1059.2,2028.9 1067.8,2032.4 1076.4,2045.6 1085,2070.1 1093.6,2094.7 1102.2,2121 1110.8,2150.9 1119.4,2182.4 1128,2176 1136.5,2171.1 1145.1,2165.8 1153.7,2157.8 1162.3,2150 1170.9,2148.5 1179.5,2147.8 1188.1,2130.2 1196.7,2103.5 1205.3,2086.6 1213.9,2077.7 1222.5,2072.5 1231.1,2069.5 1239.7,2068.1 1248.3,2068.1 1256.9,2073.5 1265.5,2079.6 1274,2078 1282.6,2076.4 1291.2,2077.6 1299.8,2075.6 1308.4,2075 1317,2076.5 1325.6,2078.7 1334.2,2080.9 1342.8,2083.3 1351.4,2085.7 1360,2088.8 1368.6,2091.8 1377.2,2095.9 1385.8,2100.1 1394.4,2104.8 1403,2109.5 1411.6,2114.5 1420.1,2119.5 1428.7,2125.3 1437.3,2136.6 1445.9,2152.5 1454.5,2166.1 1463.1,2177 1471.7,2176 1480.3,2167.7 1488.9,2140.4 1497.5,2122.4 1506.1,2113.6 1514.7,2112.6 1523.3,2138.2 1531.9,2161.2 1540.5,2138.2 1549.1,2120.5 1557.7,2116.5 1566.2,2118.5 1574.8,2128.3 1583.4,2120.5 1592,2114.6 1600.6,2112.9 1609.2,2111.3 1617.8,2109.6 1626.4,2110.4 1635,2111.2 1643.6,2112 1652.2,2112.8 1660.8,2113.6 1669.4,2114.9 1678,2116.3 1686.6,2117.7 1695.2,2119.1 1703.7,2120.5 1712.3,2122.7 1720.9,2124.9 1729.5,2127.2 1738.1,2128.1 1746.7,2129.1 1755.3,2131.7 1763.9,2134.2 1772.5,2136.7 1781.1,2138.6 1789.7,2140.4 1798.3,2142.3 1806.9,2144.2 1815.5,2146.1 1824.1,2148 1832.7,2150 1841.3,2152.6 1849.8,2155.2 1858.4,2157.9 1867,2156.9 1875.6,2155.9 1884.2,2158.6 1892.8,2161.2 1901.4,2158.9 1910,2162 1918.6,2165.1 1927.2,2161.2 1935.8,2168.7 1944.4,2173.6 1953,2178.2"/>
<path class="cb" stroke="#44b84c" stroke-width="6.8" d="M208.4,2140.1 217,2131 225.6,2112.1 234.2,2057.1 242.8,2022.8 251.4,2015.9 260,2019.4 268.6,1991.9 277.1,1979.9 285.7,1974.7 294.3,1973.9 302.9,1973 311.5,1978.2 320.1,1976.4 328.7,1974.7 337.3,1971.3 345.9,1961 354.5,1947.3 363.1,1933.5 371.7,1926.7 380.3,1928.4 388.9,1935.2 397.5,1939.5 406.1,1943.8 414.6,1945.5 423.2,1949.8 431.8,1954.1 440.4,1957.6 449,1961 457.6,1964.4 466.2,1959.3 474.8,1959.3 483.4,1959.3 492,1962.7 500.6,1971.3 509.2,1967.9 517.8,1942.5 526.4,1908.1 535,1873.7 543.6,1841.1 552.2,1810.3 560.7,1786.7 569.3,1921.5 577.9,1797.2 586.5,1766.1 595.1,1775.5 603.7,1784.3 612.3,1794.2 620.9,1852.7 629.5,1836.3 638.1,1811.3 646.7,1807.4 655.3,1819.6 663.9,1823.2 672.5,1823.7 681.1,1833.4 689.7,1868.9 698.3,1899.7 706.8,1931.2 715.4,1936 724,2037.8 732.6,2044.9 741.2,2029.6 749.8,1991.5 758.4,1958.9 767,1930.1 775.6,1907.5 784.2,1904.5 792.8,1901.4 801.4,1897.6 810,1895.3 818.6,1895 827.2,1896.9 835.8,1902.9 844.3,1909 852.9,1916.6 861.5,1928.7 870.1,1946.9 878.7,1977.4 887.3,2061.7 895.9,2114 904.5,2118.3 913.1,2109.9 921.7,2074 930.3,2027.6 938.9,2005.9 947.5,2011.7 956.1,2001.9 964.7,2011.7 973.3,2005.9 981.9,1998 990.4,1990 999,1989 1007.6,1994 1016.2,2013.8 1024.8,2025.9 1033.4,2007.9 1042,2025.9 1050.6,2016 1059.2,2008.9 1067.8,2012.8 1076.4,2027.6 1085,2055.3 1093.6,2083 1102.2,2112.7 1110.8,2146.3 1119.4,2181.7 1128,2176.7 1136.5,2172.6 1145.1,2168.4 1153.7,2162.7 1162.3,2157.2 1170.9,2155.8 1179.5,2154.7 1188.1,2142.5 1196.7,2120.8 1205.3,2104.2 1213.9,2095 1222.5,2089.6 1231.1,2086.2 1239.7,2084.6 1248.3,2083.9 1256.9,2088.2 1265.5,2092.9 1274,2091.2 1282.6,2089.4 1291.2,2089.7 1299.8,2087.8 1308.4,2087.2 1317,2087.9 1325.6,2089.6 1334.2,2091.3 1342.8,2093.4 1351.4,2095.6 1360,2098.6 1368.6,2101.7 1377.2,2105.7 1385.8,2109.7 1394.4,2114.2 1403,2118.6 1411.6,2123.6 1420.1,2128.6 1428.7,2134.5 1437.3,2143.9 1445.9,2156.8 1454.5,2168 1463.1,2176.7 1471.7,2176 1480.3,2170.9 1488.9,2155.3 1497.5,2143.1 1506.1,2136 1514.7,2134.7 1523.3,2151.2 1531.9,2167.4 1540.5,2151.2 1549.1,2137.7 1557.7,2133.3 1566.2,2135.5 1574.8,2142.1 1583.4,2136.3 1592,2131.7 1600.6,2129.6 1609.2,2127.6 1617.8,2126.4 1626.4,2126.6 1635,2127 1643.6,2127.5 1652.2,2127.9 1660.8,2128.3 1669.4,2129.2 1678,2130.1 1686.6,2131 1695.2,2131.9 1703.7,2132.8 1712.3,2134.4 1720.9,2135.9 1729.5,2137.5 1738.1,2138.4 1746.7,2139.3 1755.3,2141.4 1763.9,2143.4 1772.5,2145.5 1781.1,2147.2 1789.7,2148.9 1798.3,2150.5 1806.9,2152.1 1815.5,2153.7 1824.1,2155.4 1832.7,2157.1 1841.3,2159 1849.8,2160.9 1858.4,2162.8 1867,2162.7 1875.6,2162.6 1884.2,2164.3 1892.8,2166 1901.4,2164.9 1910,2166.8 1918.6,2168.8 1927.2,2166.8 1935.8,2171.2 1944.4,2174.2 1953,2177"/>
<path class="cb" stroke="#f8c47c" stroke-width="6.8" d="M208.4,2140.1 217,2132 225.6,2113.8 234.2,2064 242.8,2033.1 251.4,2026.2 260,2029.7 268.6,2005.6 277.1,1993.6 285.7,1988.5 294.3,1990.2 302.9,1991.9 311.5,1995.3 320.1,1993.6 328.7,1991.9 337.3,1988.5 345.9,1974.7 354.5,1954.1 363.1,1940.4 371.7,1937 380.3,1947.3 388.9,1961 397.5,1966.1 406.1,1971.3 414.6,1974.7 423.2,1981.6 431.8,1988.5 440.4,1991.9 449,1997.1 457.6,2002.2 466.2,1998.8 474.8,1998.8 483.4,1998.8 492,2002.2 500.6,2009.1 509.2,1991.9 517.8,1947 526.4,1885.1 535,1820.9 543.6,1759.5 552.2,1695.5 560.7,1637.9 569.3,1822.7 577.9,1652.2 586.5,1609.6 595.1,1623.9 603.7,1637.5 612.3,1652.4 620.9,1733.1 629.5,1712 638.1,1679.5 646.7,1675.5 655.3,1691.9 663.9,1696.8 672.5,1697.4 681.1,1710.4 689.7,1758.3 698.3,1799.8 706.8,1842.3 715.4,1848.7 724,1997.8 732.6,2006.8 741.2,1987.4 749.8,1939.2 758.4,1897.8 767,1861.3 775.6,1832.7 784.2,1828.9 792.8,1824.9 801.4,1820.1 810,1817.2 818.6,1816.9 827.2,1819.2 835.8,1826.8 844.3,1834.6 852.9,1844.2 861.5,1859.6 870.1,1882.6 878.7,1921.3 887.3,2028.1 895.9,2094.3 904.5,2099.8 913.1,2095.6 921.7,2061.5 930.3,2010 938.9,1985.8 947.5,1992.3 956.1,1981.4 964.7,1992.3 973.3,1985.8 981.9,1977 990.4,1968.2 999,1967.1 1007.6,1972.6 1016.2,1994.6 1024.8,2008 1033.4,1988 1042,2008 1050.6,1997 1059.2,1989.1 1067.8,1993.4 1076.4,2010 1085,2040.6 1093.6,2071.4 1102.2,2104.4 1110.8,2141.8 1119.4,2181.1 1128,2177.5 1136.5,2174.2 1145.1,2170.8 1153.7,2166.9 1162.3,2163.2 1170.9,2162 1179.5,2160.7 1188.1,2152.5 1196.7,2135 1205.3,2119.4 1213.9,2110.3 1222.5,2104.9 1231.1,2101.4 1239.7,2099.8 1248.3,2098.7 1256.9,2102 1265.5,2105.5 1274,2103.8 1282.6,2102 1291.2,2101.6 1299.8,2100 1308.4,2099.3 1317,2099.5 1325.6,2100.8 1334.2,2102.1 1342.8,2103.9 1351.4,2105.8 1360,2108.7 1368.6,2111.7 1377.2,2115.5 1385.8,2119.3 1394.4,2123.4 1403,2127.5 1411.6,2132.3 1420.1,2137.1 1428.7,2142.7 1437.3,2150.6 1445.9,2160.8 1454.5,2170.1 1463.1,2176.9 1471.7,2176.5 1480.3,2172.9 1488.9,2162.9 1497.5,2153.7 1506.1,2147.7 1514.7,2146.3 1523.3,2158.3 1531.9,2170.9 1540.5,2158.3 1549.1,2147.1 1557.7,2142.8 1566.2,2145 1574.8,2149.9 1583.4,2145.3 1592,2141.3 1600.6,2139.2 1609.2,2137.2 1617.8,2136.2 1626.4,2136.1 1635,2136.4 1643.6,2136.6 1652.2,2136.9 1660.8,2137.2 1669.4,2137.8 1678,2138.5 1686.6,2139.1 1695.2,2139.8 1703.7,2140.4 1712.3,2141.7 1720.9,2142.9 1729.5,2144.1 1738.1,2144.9 1746.7,2145.7 1755.3,2147.5 1763.9,2149.3 1772.5,2151.1 1781.1,2152.7 1789.7,2154.2 1798.3,2155.6 1806.9,2157.1 1815.5,2158.5 1824.1,2159.9 1832.7,2161.4 1841.3,2162.9 1849.8,2164.5 1858.4,2166 1867,2166.3 1875.6,2166.5 1884.2,2167.7 1892.8,2169 1901.4,2168.4 1910,2169.8 1918.6,2171.2 1927.2,2170.1 1935.8,2173 1944.4,2175.1 1953,2177"/>
<path class="cb" stroke="#f8f47c" stroke-width="6.8" d="M208.4,2140.1 217,2134.4 225.6,2118.3 234.2,2074.3 242.8,2045.1 251.4,2038.3 260,2043.4 268.6,2028 277.1,2019.4 285.7,2015.9 294.3,2018.2 302.9,2020.5 311.5,2022.8 320.1,2021.9 328.7,2021.1 337.3,2015.1 345.9,2009.1 354.5,2002.2 363.1,1995.3 371.7,1997.1 380.3,2002.2 388.9,2005.6 397.5,2007.4 406.1,2009.1 414.6,2010.8 423.2,2013.4 431.8,2015.9 440.4,2021.1 449,2022.8 457.6,2024.5 466.2,2024.5 474.8,2024.5 483.4,2024.5 492,2025.4 500.6,2026.2 509.2,2019.4 517.8,1991.9 526.4,1954.7 535,1917.4 543.6,1882.1 552.2,1848.7 560.7,1823.3 569.3,1945.7 577.9,1832.8 586.5,1804.5 595.1,1809.5 603.7,1814.3 612.3,1820.2 620.9,1872.1 629.5,1853.7 638.1,1827 646.7,1820.2 655.3,1832 663.9,1835.5 672.5,1835.9 681.1,1845.3 689.7,1879.6 698.3,1909.4 706.8,1939.8 715.4,1944.4 724,2033.8 732.6,2041 741.2,2025.4 749.8,1986.3 758.4,1952.7 767,1923.1 775.6,1900 784.2,1896.9 792.8,1893.7 801.4,1889.8 810,1887.4 818.6,1887.2 827.2,1889.1 835.8,1895.2 844.3,1901.5 852.9,1909.3 861.5,1921.7 870.1,1940.5 878.7,1971.7 887.3,2058.3 895.9,2112 904.5,2116.4 913.1,2106.1 921.7,2066.1 930.3,2016.5 938.9,1993.2 947.5,1999.4 956.1,1989 964.7,1999.4 973.3,1993.2 981.9,1984.7 990.4,1976.2 999,1975.2 1007.6,1980.5 1016.2,2001.7 1024.8,2014.6 1033.4,1995.3 1042,2014.6 1050.6,2004 1059.2,1996.4 1067.8,2000.6 1076.4,2016.5 1085,2046 1093.6,2075.7 1102.2,2107.4 1110.8,2143.4 1119.4,2181.3 1128,2178.5 1136.5,2175.9 1145.1,2173.1 1153.7,2170.6 1162.3,2168.2 1170.9,2167.2 1179.5,2165.7 1188.1,2160.6 1196.7,2146.7 1205.3,2132.3 1213.9,2123.7 1222.5,2118.6 1231.1,2115.2 1239.7,2113.6 1248.3,2112.2 1256.9,2114.7 1265.5,2117.4 1274,2115.7 1282.6,2114 1291.2,2113.2 1299.8,2111.8 1308.4,2111.1 1317,2110.9 1325.6,2111.9 1334.2,2112.9 1342.8,2114.5 1351.4,2116.1 1360,2118.8 1368.6,2121.6 1377.2,2125.1 1385.8,2128.6 1394.4,2132.3 1403,2136 1411.6,2140.4 1420.1,2144.9 1428.7,2150.1 1437.3,2156.5 1445.9,2164.6 1454.5,2172.2 1463.1,2177.5 1471.7,2177.3 1480.3,2175.9 1488.9,2171.6 1497.5,2165.6 1506.1,2161 1514.7,2159.7 1523.3,2166.8 1531.9,2175.3 1540.5,2166.8 1549.1,2158.6 1557.7,2154.7 1566.2,2156.6 1574.8,2159.8 1583.4,2156.5 1592,2153.5 1600.6,2151.5 1609.2,2149.6 1617.8,2148.9 1626.4,2148.5 1635,2148.7 1643.6,2148.8 1652.2,2148.9 1660.8,2149 1669.4,2149.4 1678,2149.8 1686.6,2150.2 1695.2,2150.5 1703.7,2150.9 1712.3,2151.8 1720.9,2152.6 1729.5,2153.4 1738.1,2154.1 1746.7,2154.8 1755.3,2156.2 1763.9,2157.6 1772.5,2158.9 1781.1,2160.2 1789.7,2161.5 1798.3,2162.7 1806.9,2163.8 1815.5,2165 1824.1,2166.1 1832.7,2167.3 1841.3,2168.4 1849.8,2169.5 1858.4,2170.5 1867,2171.1 1875.6,2171.6 1884.2,2172.3 1892.8,2173.1 1901.4,2173.1 1910,2173.8 1918.6,2174.6 1927.2,2174.4 1935.8,2175.8 1944.4,2176.8 1953,2177.8"/>
<path class="cb" stroke="#28033a" stroke-width="6.8" d="M208.4,2143 217,2136.1 225.6,2122.4 234.2,2084.6 242.8,2057.1 251.4,2050.3 260,2060.6 268.6,2053.7 277.1,2040 285.7,2034.8 294.3,2038.3 302.9,2045.1 311.5,2053.7 320.1,2053.7 328.7,2053.7 337.3,2050.3 345.9,2029.7 354.5,2012.5 363.1,2003.9 371.7,2003.9 380.3,2015.9 388.9,2026.2 397.5,2033.1 406.1,2040 414.6,2045.1 423.2,2050.3 431.8,2055.4 440.4,2060.6 449,2064.9 457.6,2069.2 466.2,2070.9 474.8,2070.9 483.4,2070.9 492,2072.6 500.6,2074.3 509.2,2060.6 517.8,2011.7 526.4,1945.2 535,1878.3 543.6,1814.8 552.2,1753.8 560.7,1705.8 569.3,1867.7 577.9,1718.3 586.5,1680.9 595.1,1691.9 603.7,1702.4 612.3,1714 620.9,1784.3 629.5,1764.2 638.1,1733.9 646.7,1729 655.3,1743.7 663.9,1748 672.5,1748.6 681.1,1760.3 689.7,1803.1 698.3,1840.3 706.8,1878.3 715.4,1884 724,2023.7 732.6,2031.4 741.2,2014.8 749.8,1973.1 758.4,1937.4 767,1905.8 775.6,1881.1 784.2,1877.8 792.8,1874.4 801.4,1870.3 810,1867.8 818.6,1867.5 827.2,1869.5 835.8,1876 844.3,1882.8 852.9,1891 861.5,1904.3 870.1,1924.3 878.7,1957.6 887.3,2049.9 895.9,2107 904.5,2111.8 913.1,2113 921.7,2092.3 930.3,2053.3 938.9,2035 947.5,2039.9 956.1,2031.7 964.7,2039.9 973.3,2035 981.9,2028.4 990.4,2021.7 999,2020.9 1007.6,2025.1 1016.2,2041.7 1024.8,2051.8 1033.4,2036.7 1042,2051.8 1050.6,2043.5 1059.2,2037.5 1067.8,2040.8 1076.4,2053.3 1085,2076.5 1093.6,2099.7 1102.2,2124.7 1110.8,2152.9 1119.4,2182.6 1128,2180.8 1136.5,2179.2 1145.1,2177.6 1153.7,2176.8 1162.3,2176 1170.9,2175.3 1179.5,2174 1188.1,2172.6 1196.7,2164.3 1205.3,2153.3 1213.9,2146.4 1222.5,2142.3 1231.1,2139.6 1239.7,2138.2 1248.3,2136.8 1256.9,2138.2 1265.5,2139.6 1274,2138.2 1282.6,2136.8 1291.2,2135.7 1299.8,2134.6 1308.4,2134.1 1317,2133.6 1325.6,2134.1 1334.2,2134.6 1342.8,2135.7 1351.4,2136.8 1360,2139 1368.6,2141.1 1377.2,2143.8 1385.8,2146.4 1394.4,2149.2 1403,2152 1411.6,2155.4 1420.1,2158.9 1428.7,2162.9 1437.3,2167 1445.9,2171.8 1454.5,2176.6 1463.1,2179.5 1471.7,2179.5 1480.3,2179.6 1488.9,2179.1 1497.5,2176.1 1506.1,2173.1 1514.7,2172 1523.3,2175.1 1531.9,2179.9 1540.5,2175.1 1549.1,2170 1557.7,2167 1566.2,2168.5 1574.8,2170.1 1583.4,2168.1 1592,2166.2 1600.6,2164.6 1609.2,2163.1 1617.8,2162.7 1626.4,2162.3 1635,2162.3 1643.6,2162.3 1652.2,2162.3 1660.8,2162.3 1669.4,2162.5 1678,2162.6 1686.6,2162.8 1695.2,2163 1703.7,2163.1 1712.3,2163.6 1720.9,2164.1 1729.5,2164.6 1738.1,2165 1746.7,2165.5 1755.3,2166.4 1763.9,2167.3 1772.5,2168.3 1781.1,2169.2 1789.7,2170.1 1798.3,2170.9 1806.9,2171.7 1815.5,2172.5 1824.1,2173.3 1832.7,2174.1 1841.3,2174.7 1849.8,2175.4 1858.4,2176 1867,2176.6 1875.6,2177.2 1884.2,2177.5 1892.8,2177.9 1901.4,2178.1 1910,2178.5 1918.6,2178.8 1927.2,2179 1935.8,2179.3 1944.4,2179.6 1953,2179.9"/>
</g></g>
<rect x="1453" y="1206" width="459" height="921" fill="#fff"/>
<g filter="url(#bt)">
<text x="1466" y="1247.6" font-size="50" font-weight="bold" fill="#000" textLength="389" lengthAdjust="spacingAndGlyphs">b. Salinas Valley</text>
<path d="M1470.8 1273.1H1557" stroke="#c41e9b" stroke-width="8.5"/>
<text x="1571" y="1282.3" font-size="27.8" fill="#000" stroke="#000" stroke-width="0.45">Brocoli_green_weeds_1</text>
<path d="M1470.8 1328.1H1557" stroke="#00b3a0" stroke-width="8.5"/>
<text x="1571" y="1337.3" font-size="27.8" fill="#000" stroke="#000" stroke-width="0.45">Brocoli_green_weeds_2</text>
<path d="M1470.8 1383.1H1557" stroke="#1e7396" stroke-width="8.5"/>
<text x="1571" y="1392.3" font-size="27.8" fill="#000" stroke="#000" stroke-width="0.45">Fallow</text>
<path d="M1470.8 1438.2H1557" stroke="#4a4694" stroke-width="8.5"/>
<text x="1571" y="1447.3" font-size="27.8" fill="#000" stroke="#000" stroke-width="0.45">Fallow_rough_plow</text>
<path d="M1470.8 1493.2H1557" stroke="#c6c9b2" stroke-width="8.5"/>
<text x="1571" y="1502.4" font-size="27.8" fill="#000" stroke="#000" stroke-width="0.45">Fallow_smooth</text>
<path d="M1470.8 1548.2H1557" stroke="#065c8f" stroke-width="8.5"/>
<text x="1571" y="1557.4" font-size="27.8" fill="#000" stroke="#000" stroke-width="0.45">Stubble</text>
<path d="M1470.8 1603.2H1557" stroke="#6e0032" stroke-width="8.5"/>
<text x="1571" y="1612.4" font-size="27.8" fill="#000" stroke="#000" stroke-width="0.45">Celery</text>
<path d="M1470.8 1658.2H1557" stroke="#8438d0" stroke-width="8.5"/>
<text x="1571" y="1667.4" font-size="27.8" fill="#000" stroke="#000" stroke-width="0.45">Grapes_untrained</text>
<path d="M1470.8 1713.3H1557" stroke="#62ba0e" stroke-width="8.5"/>
<text x="1571" y="1722.4" font-size="27.8" fill="#000" stroke="#000" stroke-width="0.45">Soil_vinyard_develop</text>
<path d="M1470.8 1768.3H1557" stroke="#70c4d4" stroke-width="8.5"/>
<text x="1571" y="1777.5" font-size="27.8" fill="#000" stroke="#000" stroke-width="0.45">Corn_senesced_green_weeds</text>
<path d="M1470.8 1823.3H1557" stroke="#6ee887" stroke-width="8.5"/>
<text x="1571" y="1832.5" font-size="27.8" fill="#000" stroke="#000" stroke-width="0.45">Lettuce_romaine_4wk</text>
<path d="M1470.8 1878.3H1557" stroke="#cc1c1c" stroke-width="8.5"/>
<text x="1571" y="1887.5" font-size="27.8" fill="#000" stroke="#000" stroke-width="0.45">Lettuce_romaine_5wk</text>
<path d="M1470.8 1933.3H1557" stroke="#52b456" stroke-width="8.5"/>
<text x="1571" y="1942.5" font-size="27.8" fill="#000" stroke="#000" stroke-width="0.45">Lettuce_romaine_6wk</text>
<path d="M1470.8 1988.4H1557" stroke="#f4c684" stroke-width="8.5"/>
<text x="1571" y="1997.5" font-size="27.8" fill="#000" stroke="#000" stroke-width="0.45">Lettuce_romaine_7wk</text>
<path d="M1470.8 2043.4H1557" stroke="#f6f396" stroke-width="8.5"/>
<text x="1571" y="2052.6" font-size="27.8" fill="#000" stroke="#000" stroke-width="0.45">Vinyard_untrained</text>
<path d="M1470.8 2098.4H1557" stroke="#28033a" stroke-width="8.5"/>
<text x="1571" y="2107.6" font-size="27.8" fill="#000" stroke="#000" stroke-width="0.45">Vinyard_vertical_trellis</text>
</g>
<rect class="fr" stroke-width="5.6" x="198.3" y="1203" width="1773.7" height="984.5"/>
<g filter="url(#bt)" font-size="41.5" fill="#1c1c1c">
<text x="198.8" y="2238.5" text-anchor="middle">0</text>
<text x="628.5" y="2238.5" text-anchor="middle">50</text>
<text x="1058.2" y="2238.5" text-anchor="middle">100</text>
<text x="1487.9" y="2238.5" text-anchor="middle">150</text>
<text x="1917.6" y="2238.5" text-anchor="middle">200</text>
<text x="186.5" y="2199" text-anchor="end">0</text>
<text x="186.5" y="2002.9" text-anchor="end">0.2</text>
<text x="186.5" y="1806.9" text-anchor="end">0.4</text>
<text x="186.5" y="1610.8" text-anchor="end">0.6</text>
<text x="186.5" y="1414.7" text-anchor="end">0.8</text>
<text x="186.5" y="1218.7" text-anchor="end">1</text>
<text font-size="52" text-anchor="middle" transform="translate(74.2 1696) rotate(-90)">Radiance</text>
</g>
</g>
<g id="chart-c">
<clipPath id="cpc"><rect x="219.4" y="2299.1" width="1751.3" height="1022.5"/></clipPath>
<path class="g" d="M562.3 2299.1V3321.6M900.9 2299.1V3321.6M1239.5 2299.1V3321.6M1578.1 2299.1V3321.6M1916.7 2299.1V3321.6M219.4 3114.8H1970.7M219.4 2911.8H1970.7M219.4 2708.9H1970.7M219.4 2506H1970.7"/>
<g clip-path="url(#cpc)"><g filter="url(#bl)">
<path class="c" stroke="#c8189c" stroke-width="8.1" d="M239.1,3182.8 247.6,3184 256.1,3185.3 264.6,3186.4 273.1,3186.9 281.6,3185.9 290.1,3183.2 298.6,3180.2 307.1,3178.7 315.5,3178.5 324,3178.4 332.5,3178.2 341,3178.2 349.5,3178.1 358,3178 366.5,3177.9 375,3177.7 383.5,3177.5 391.9,3177.3 400.4,3177.1 408.9,3176.9 417.4,3176.7 425.9,3176.5 434.4,3176.2 442.9,3176 451.4,3175.7 459.8,3175.4 468.3,3175 476.8,3174.7 485.3,3174.3 493.8,3173.9 502.3,3173.5 510.8,3173.1 519.3,3172.6 527.8,3172.2 536.2,3171.8 544.7,3171.3 553.2,3170.9 561.7,3170.5 570.2,3170.1 578.7,3169.7 587.2,3169.4 595.7,3169 604.2,3168.6 612.6,3168.2 621.1,3167.8 629.6,3167.4 638.1,3167 646.6,3166.7 655.1,3166.3 663.6,3165.9 672.1,3165.4 680.6,3165 689,3164.6 697.5,3164.1 706,3163.6 714.5,3163.2 723,3162.7 731.5,3162.3 740,3161.8 748.5,3161.4 756.9,3160.9 765.4,3160.5 773.9,3160.1 782.4,3159.7 790.9,3159.3 799.4,3159 807.9,3158.6 816.4,3158.3 824.9,3158.1 833.3,3157.8 841.8,3157.6 850.3,3157.3 858.8,3157.1 867.3,3156.9 875.8,3156.7 884.3,3156.5 892.8,3156.3 901.3,3156.1 909.7,3155.9 918.2,3155.8 926.7,3155.6 935.2,3155.4 943.7,3155.3 952.2,3155.1 960.7,3155 969.2,3154.8 977.6,3154.7 986.1,3154.5 994.6,3154.4 1003.1,3154.2 1011.6,3154.1 1020.1,3154 1028.6,3153.8 1037.1,3153.7 1045.6,3153.6 1054,3153.5 1062.5,3153.3 1071,3153.2 1079.5,3153.1 1088,3153 1096.5,3152.9 1105,3152.8 1113.5,3152.7 1122,3152.6 1130.4,3152.6 1138.9,3152.5 1147.4,3152.4 1155.9,3152.3 1164.4,3152.3 1172.9,3152.2 1181.4,3152.1 1189.9,3152.1 1198.3,3152 1206.8,3152 1215.3,3151.9 1223.8,3151.9 1232.3,3151.8 1240.8,3151.8 1249.3,3151.7 1257.8,3151.7 1266.3,3151.6 1274.7,3151.6 1283.2,3151.5 1291.7,3151.5 1300.2,3151.4 1308.7,3151.4 1317.2,3151.3 1325.7,3151.3 1334.2,3151.2 1342.7,3151.2 1351.1,3151.1 1359.6,3151.1 1368.1,3151 1376.6,3151 1385.1,3150.9 1393.6,3150.8 1402.1,3150.8 1410.6,3150.7 1419,3150.6 1427.5,3150.5 1436,3150.5 1444.5,3150.4 1453,3150.3 1461.5,3150.2 1470,3150.1 1478.5,3150 1487,3149.9 1495.4,3149.8 1503.9,3149.6 1512.4,3149.4 1520.9,3149.1 1529.4,3148.9 1537.9,3148.6 1546.4,3148.3 1554.9,3148.1 1563.4,3147.8 1571.8,3147.5 1580.3,3147.2 1588.8,3147 1597.3,3146.8 1605.8,3146.7 1614.3,3146.5 1622.8,3146.4 1631.3,3146.3 1639.8,3146.3 1648.2,3146.2 1656.7,3146.1 1665.2,3146.1 1673.7,3146 1682.2,3146 1690.7,3145.9 1699.2,3145.9 1707.7,3145.8 1716.1,3145.8 1724.6,3145.7 1733.1,3145.7 1741.6,3145.6 1750.1,3145.6 1758.6,3145.6 1767.1,3145.5 1775.6,3145.5 1784.1,3145.5 1792.5,3145.4 1801,3145.4 1809.5,3145.4 1818,3145.4 1826.5,3145.4 1835,3145.4 1843.5,3145.4 1852,3145.4 1860.5,3145.4 1868.9,3145.5 1877.4,3145.6 1885.9,3145.7 1894.4,3145.8 1902.9,3146 1911.4,3146.1 1919.9,3146.3 1928.4,3146.4 1936.8,3146.6 1945.3,3146.7 1953.8,3146.9 1962.3,3147 1967.8,3147.1"/>
<path class="c" stroke="#00b5a2" stroke-width="8.1" d="M239.1,3222 247.6,3228.5 256.1,3235.7 264.6,3241.7 273.1,3244.6 281.6,3244.6 290.1,3244.6 298.6,3244.6 307.1,3244.6 315.5,3244.7 324,3245 332.5,3245.3 341,3245.7 349.5,3246.1 358,3246.5 366.5,3246.8 375,3247 383.5,3247.3 391.9,3247.6 400.4,3247.9 408.9,3248.1 417.4,3248.4 425.9,3248.5 434.4,3248.7 442.9,3248.8 451.4,3248.8 459.8,3248.6 468.3,3248.4 476.8,3248.1 485.3,3247.8 493.8,3247.3 502.3,3246.8 510.8,3246.2 519.3,3245.5 527.8,3244.8 536.2,3243.8 544.7,3242.2 553.2,3240.4 561.7,3238.6 570.2,3237.2 578.7,3235.9 587.2,3234.6 595.7,3233.3 604.2,3231.8 612.6,3230.1 621.1,3227.9 629.6,3225.3 638.1,3222.5 646.6,3219.8 655.1,3217.4 663.6,3214.9 672.1,3212.5 680.6,3210.2 689,3208.4 697.5,3207.2 706,3206.2 714.5,3205.2 723,3204.4 731.5,3203.7 740,3203.1 748.5,3202.6 756.9,3202.3 765.4,3202.1 773.9,3202 782.4,3201.9 790.9,3201.8 799.4,3201.7 807.9,3201.6 816.4,3201.6 824.9,3201.5 833.3,3201.5 841.8,3201.4 850.3,3201.4 858.8,3201.4 867.3,3201.4 875.8,3201.4 884.3,3201.4 892.8,3201.4 901.3,3201.4 909.7,3201.4 918.2,3201.4 926.7,3201.4 935.2,3201.4 943.7,3201.4 952.2,3201.4 960.7,3201.4 969.2,3201.4 977.6,3201.4 986.1,3201.4 994.6,3201.4 1003.1,3201.4 1011.6,3201.4 1020.1,3201.4 1028.6,3201.4 1037.1,3201.3 1045.6,3201.2 1054,3200.9 1062.5,3200.7 1071,3200.3 1079.5,3200 1088,3199.7 1096.5,3199.5 1105,3199.4 1113.5,3199.3 1122,3199.4 1130.4,3199.7 1138.9,3200 1147.4,3200.4 1155.9,3200.9 1164.4,3201.3 1172.9,3201.7 1181.4,3202 1189.9,3202.2 1198.3,3202.2 1206.8,3202.2 1215.3,3202.3 1223.8,3202.4 1232.3,3202.6 1240.8,3202.8 1249.3,3203 1257.8,3203.2 1266.3,3203.3 1274.7,3203.4 1283.2,3203.4 1291.7,3203 1300.2,3202 1308.7,3200.6 1317.2,3198.8 1325.7,3196.7 1334.2,3193.3 1342.7,3188.5 1351.1,3182.8 1359.6,3176.5 1368.1,3170 1376.6,3162.4 1385.1,3153.8 1393.6,3144.7 1402.1,3135.5 1410.6,3126.5 1419,3117 1427.5,3107.3 1436,3097.8 1444.5,3088.7 1453,3079.8 1461.5,3069.7 1470,3060.1 1478.5,3052.6 1487,3049 1495.4,3049.2 1503.9,3048.3 1512.4,3040.2 1520.9,3028.1 1529.4,3016.4 1537.9,3009.1 1546.4,3003.7 1554.9,2999 1563.4,2995 1571.8,2991.5 1580.3,2987.9 1588.8,2985.2 1597.3,2984.3 1605.8,2984.3 1614.3,2984.3 1622.8,2985.5 1631.3,2987.2 1639.8,2987.6 1648.2,2986.8 1656.7,2985.6 1665.2,2983.6 1673.7,2981.1 1682.2,2979 1690.7,2977.9 1699.2,2977.4 1707.7,2976.9 1716.1,2976.5 1724.6,2976.2 1733.1,2975.9 1741.6,2975.6 1750.1,2975.3 1758.6,2975 1767.1,2974.7 1775.6,2974.7 1784.1,2974.7 1792.5,2974.7 1801,2974.7 1809.5,2974.7 1818,2974.7 1826.5,2974.7 1835,2974.7 1843.5,2974.7 1852,2975 1860.5,2975.5 1868.9,2976.2 1877.4,2976.8 1885.9,2977.2 1894.4,2977.6 1902.9,2978 1911.4,2978.1 1919.9,2978 1928.4,2977.8 1936.8,2977.5 1945.3,2976.9 1953.8,2975.9 1962.3,2974.7 1967.8,2974"/>
<path class="c" stroke="#1e7396" stroke-width="8.1" d="M239.1,3161 247.6,3161.6 256.1,3162.2 264.6,3162.8 273.1,3163 281.6,3161.7 290.1,3158.1 298.6,3154.1 307.1,3151.9 315.5,3151.4 324,3151.1 332.5,3150.8 341,3150.6 349.5,3150.4 358,3150.1 366.5,3149.8 375,3149.3 383.5,3148.8 391.9,3148.2 400.4,3147.6 408.9,3146.9 417.4,3146.2 425.9,3145.5 434.4,3144.7 442.9,3144 451.4,3143.3 459.8,3142.7 468.3,3141.9 476.8,3141.2 485.3,3140.5 493.8,3139.8 502.3,3139 510.8,3138.3 519.3,3137.5 527.8,3136.7 536.2,3135.9 544.7,3135.1 553.2,3134.3 561.7,3133.5 570.2,3132.6 578.7,3131.7 587.2,3130.8 595.7,3129.8 604.2,3128.9 612.6,3127.9 621.1,3126.9 629.6,3125.9 638.1,3124.9 646.6,3123.9 655.1,3122.9 663.6,3121.9 672.1,3120.9 680.6,3119.9 689,3118.9 697.5,3117.9 706,3116.8 714.5,3115.7 723,3114.6 731.5,3113.4 740,3112.1 748.5,3110.7 756.9,3109.1 765.4,3107.5 773.9,3105.9 782.4,3104.5 790.9,3103.2 799.4,3101.8 807.9,3100.5 816.4,3099.1 824.9,3097.8 833.3,3096.6 841.8,3095.5 850.3,3094.6 858.8,3093.8 867.3,3093.3 875.8,3092.8 884.3,3092.3 892.8,3091.9 901.3,3091.5 909.7,3091.1 918.2,3090.8 926.7,3090.6 935.2,3090.3 943.7,3090.2 952.2,3090 960.7,3089.9 969.2,3089.8 977.6,3089.7 986.1,3089.7 994.6,3089.6 1003.1,3089.5 1011.6,3089.5 1020.1,3089.4 1028.6,3089.3 1037.1,3089.2 1045.6,3089.1 1054,3089 1062.5,3088.9 1071,3088.7 1079.5,3088.6 1088,3088.5 1096.5,3088.3 1105,3088.2 1113.5,3088 1122,3087.8 1130.4,3087.6 1138.9,3087.3 1147.4,3087 1155.9,3086.7 1164.4,3086.5 1172.9,3086.3 1181.4,3086.1 1189.9,3086 1198.3,3086 1206.8,3086 1215.3,3086 1223.8,3086.1 1232.3,3086.1 1240.8,3086.2 1249.3,3086.3 1257.8,3086.4 1266.3,3086.5 1274.7,3086.7 1283.2,3086.8 1291.7,3087.3 1300.2,3088.2 1308.7,3089.2 1317.2,3089.9 1325.7,3090.1 1334.2,3089.2 1342.7,3087.5 1351.1,3085.7 1359.6,3084.3 1368.1,3083.8 1376.6,3083.6 1385.1,3083.5 1393.6,3083.4 1402.1,3083.3 1410.6,3083.2 1419,3083.2 1427.5,3083.1 1436,3082.9 1444.5,3082.8 1453,3082.5 1461.5,3082 1470,3081.3 1478.5,3080.6 1487,3079.9 1495.4,3079.2 1503.9,3078.5 1512.4,3077.7 1520.9,3077.2 1529.4,3076.9 1537.9,3077 1546.4,3077.2 1554.9,3077.4 1563.4,3077.8 1571.8,3078.3 1580.3,3078.9 1588.8,3079.6 1597.3,3081 1605.8,3084.4 1614.3,3088.4 1622.8,3091.4 1631.3,3091.7 1639.8,3086 1648.2,3078.1 1656.7,3073.7 1665.2,3074 1673.7,3075.1 1682.2,3076.4 1690.7,3077.8 1699.2,3079.9 1707.7,3082 1716.1,3083.7 1724.6,3084.4 1733.1,3084.6 1741.6,3084.8 1750.1,3085 1758.6,3085.1 1767.1,3085.2 1775.6,3085.3 1784.1,3085.4 1792.5,3085.4 1801,3085.4 1809.5,3085.4 1818,3085.4 1826.5,3085.4 1835,3086.3 1843.5,3088.1 1852,3089.9 1860.5,3091.1 1868.9,3091 1877.4,3090.1 1885.9,3089.2 1894.4,3088.8 1902.9,3089.1 1911.4,3089.7 1919.9,3090.2 1928.4,3090.5 1936.8,3090.3 1945.3,3089.7 1953.8,3089 1962.3,3088.2 1967.8,3087.8"/>
<path class="c" stroke="#4a4694" stroke-width="8.1" d="M239.1,3230.2 247.6,3237 256.1,3244.3 264.6,3250.7 273.1,3254.7 281.6,3256.2 290.1,3257.3 298.6,3258.1 307.1,3259.1 315.5,3260.2 324,3261.5 332.5,3262.8 341,3264 349.5,3265.3 358,3266.4 366.5,3267.5 375,3268.6 383.5,3269.7 391.9,3270.8 400.4,3272 408.9,3273 417.4,3273.9 425.9,3274.7 434.4,3275.2 442.9,3275.5 451.4,3275.5 459.8,3275.5 468.3,3275.5 476.8,3275.5 485.3,3275.5 493.8,3275.5 502.3,3275.5 510.8,3275.5 519.3,3275.5 527.8,3275.5 536.2,3275.3 544.7,3274.3 553.2,3273 561.7,3271.6 570.2,3270.2 578.7,3268.7 587.2,3267.1 595.7,3265.2 604.2,3263.1 612.6,3260.7 621.1,3258.2 629.6,3255.8 638.1,3253.5 646.6,3251 655.1,3248.5 663.6,3246.4 672.1,3244.9 680.6,3244 689,3243.4 697.5,3242.8 706,3242 714.5,3241 723,3239.9 731.5,3238.7 740,3237.7 748.5,3236.9 756.9,3236.5 765.4,3236.5 773.9,3236.9 782.4,3237.7 790.9,3238.8 799.4,3240 807.9,3241.3 816.4,3243.2 824.9,3245.4 833.3,3247.7 841.8,3249.6 850.3,3251 858.8,3252.4 867.3,3253.6 875.8,3254.8 884.3,3255.8 892.8,3256.6 901.3,3257.2 909.7,3257.8 918.2,3258.2 926.7,3258.6 935.2,3259 943.7,3259.3 952.2,3259.7 960.7,3260 969.2,3260.3 977.6,3260.6 986.1,3261 994.6,3261.4 1003.1,3261.8 1011.6,3262.3 1020.1,3262.7 1028.6,3263.1 1037.1,3263.5 1045.6,3264 1054,3264.4 1062.5,3264.8 1071,3265.3 1079.5,3265.7 1088,3266.1 1096.5,3266.4 1105,3266.8 1113.5,3267.2 1122,3267.6 1130.4,3268 1138.9,3268.5 1147.4,3269 1155.9,3269.5 1164.4,3270.2 1172.9,3270.9 1181.4,3271.7 1189.9,3272.5 1198.3,3273.3 1206.8,3274.2 1215.3,3275.3 1223.8,3276.4 1232.3,3277.3 1240.8,3277.6 1249.3,3277.6 1257.8,3277.6 1266.3,3277.6 1274.7,3277.6 1283.2,3277.6 1291.7,3277 1300.2,3275.6 1308.7,3273.7 1317.2,3271.3 1325.7,3268.7 1334.2,3265.2 1342.7,3260.6 1351.1,3255.1 1359.6,3248.8 1368.1,3241.8 1376.6,3233 1385.1,3222.6 1393.6,3211 1402.1,3198.9 1410.6,3186.4 1419,3172.9 1427.5,3158.4 1436,3143.3 1444.5,3128 1453,3112.7 1461.5,3097 1470,3080.9 1478.5,3064.5 1487,3047.8 1495.4,3030.5 1503.9,3012.5 1512.4,2994.2 1520.9,2976.1 1529.4,2958.8 1537.9,2941 1546.4,2922.6 1554.9,2906.1 1563.4,2894.1 1571.8,2886.4 1580.3,2879.4 1588.8,2873.2 1597.3,2867.5 1605.8,2862.5 1614.3,2858.2 1622.8,2854.4 1631.3,2851.2 1639.8,2848.6 1648.2,2846.5 1656.7,2844.7 1665.2,2842.9 1673.7,2841.3 1682.2,2839.7 1690.7,2838.2 1699.2,2836.8 1707.7,2835.6 1716.1,2834.5 1724.6,2833.5 1733.1,2832.7 1741.6,2832 1750.1,2831.6 1758.6,2831.3 1767.1,2831.2 1775.6,2831.3 1784.1,2831.5 1792.5,2831.8 1801,2832.2 1809.5,2832.8 1818,2833.4 1826.5,2834 1835,2834.8 1843.5,2836.6 1852,2839 1860.5,2841.6 1868.9,2843.9 1877.4,2845.5 1885.9,2847.1 1894.4,2848.6 1902.9,2849.9 1911.4,2850.9 1919.9,2851.6 1928.4,2851.8 1936.8,2851.3 1945.3,2850.3 1953.8,2849.1 1962.3,2847.8 1969.8,2846.8"/>
<path class="c" stroke="#c6c9b2" stroke-width="8.1" d="M241.2,2947.3 249.7,2941.8 258.2,2936.7 266.7,2930.8 275.2,2923.1 283.7,2910.2 292.1,2892.9 300.6,2874.8 309.1,2859.4 317.6,2847.7 326.1,2837.4 334.6,2828.1 343.1,2819.8 351.6,2812.5 360,2805.6 368.5,2798.7 377,2791.2 385.5,2782.5 394,2773.3 402.5,2764.7 411,2757.8 419.5,2752.3 428,2747.5 436.4,2742.8 444.9,2737.7 453.4,2732.5 461.9,2728 470.4,2724.9 478.9,2722.8 487.4,2721.2 495.9,2719.9 504.4,2718.7 512.8,2717.6 521.3,2716.8 529.8,2716.5 538.3,2716.8 546.8,2717.5 555.3,2718.4 563.8,2719.3 572.3,2720.3 580.7,2721.4 589.2,2722.6 597.7,2724 606.2,2726.4 614.7,2729 623.2,2731.2 631.7,2732 640.2,2732.3 648.7,2732.5 657.1,2732.7 665.6,2733.5 674.1,2736.2 682.6,2739.7 691.1,2743.7 699.6,2748.5 708.1,2753.6 716.6,2758.3 725.1,2762.2 733.5,2765.7 742,2769.4 750.5,2773.7 759,2778.9 767.5,2784.8 776,2790.7 784.5,2796.4 793,2801.5 801.4,2806.5 809.9,2811.4 818.4,2816.5 826.9,2821.9 835.4,2827.8 843.9,2834.4 852.4,2841.4 860.9,2848.6 869.4,2856 877.8,2863.8 886.3,2871.8 894.8,2879.9 903.3,2888.9 911.8,2900 920.3,2911.5 928.8,2922.4 937.3,2933.1 945.8,2942.9 954.2,2950.8 962.7,2957.6 971.2,2963.8 979.7,2969.6 988.2,2975.1 996.7,2980.3 1005.2,2985.2 1013.7,2989.8 1022.2,2994.3 1030.6,2998.7 1039.1,3003 1047.6,3007.1 1056.1,3010.8 1064.6,3013.8 1073.1,3016.2 1081.6,3018.1 1090.1,3019.9 1098.5,3021.4 1107,3022.9 1115.5,3024.4 1124,3025.9 1132.5,3027.5 1141,3029.1 1149.5,3030.5 1158,3031.8 1166.5,3032.9 1174.9,3034.1 1183.4,3035.1 1191.9,3035.6 1200.4,3035.4 1208.9,3034.9 1217.4,3034.1 1225.9,3033.1 1234.4,3032 1242.9,3030.7 1251.3,3028.7 1259.8,3026.3 1268.3,3023.8 1276.8,3021.4 1285.3,3019.6 1293.8,3018.1 1302.3,3016.8 1310.8,3015.6 1319.2,3014.4 1327.7,3013.2 1336.2,3011.9 1344.7,3010.5 1353.2,3009 1361.7,3007.5 1370.2,3006.3 1378.7,3005.4 1387.2,3004.9 1395.6,3004.5 1404.1,3004.1 1412.6,3003.9 1421.1,3003.9 1429.6,3005.3 1438.1,3007.8 1446.6,3010.7 1455.1,3013 1463.6,3015.1 1472,3017.1 1480.5,3019.2 1489,3021.8 1497.5,3023.6 1506,3023.1 1514.5,3020.7 1523,3017.4 1531.5,3014.2 1539.9,3011.9 1548.4,3009.7 1556.9,3007.5 1565.4,3005.5 1573.9,3003.5 1582.4,3001.3 1590.9,2999.3 1599.4,2998.1 1607.9,2998.2 1616.3,2999.2 1624.8,3000.4 1633.3,3001.3 1641.8,3001.2 1650.3,2999.8 1658.8,2998 1667.3,2996.6 1675.8,2996.1 1684.3,2996 1692.7,2995.8 1701.2,2995.8 1709.7,2995.7 1718.2,2995.6 1726.7,2995.5 1735.2,2995.4 1743.7,2995.1 1752.2,2994.7 1760.7,2994.2 1769.1,2993.5 1777.6,2992.7 1786.1,2991.7 1794.6,2990.7 1803.1,2989.1 1811.6,2987.2 1820.1,2984.9 1828.6,2982.6 1837,2980.4 1845.5,2978.5 1854,2976.9 1862.5,2975.2 1871,2973.6 1879.5,2971.7 1888,2969.6 1896.5,2967.4 1905,2965.2 1913.4,2963.2 1921.9,2961.5 1930.4,2959.9 1938.9,2958.2 1947.4,2956.4 1955.9,2954.5 1964.4,2952.5 1967.8,2951.7"/>
<path class="c" stroke="#065c8f" stroke-width="8.1" d="M239.1,3213.7 247.6,3214 256.1,3218.9 264.6,3226 273.1,3230.2 281.6,3229.5 290.1,3227.5 298.6,3225.4 307.1,3224 315.5,3223.6 324,3223.2 332.5,3222.9 341,3222.7 349.5,3222.5 358,3222.2 366.5,3221.9 375,3221.6 383.5,3221.2 391.9,3220.8 400.4,3220.5 408.9,3220.1 417.4,3219.6 425.9,3219.2 434.4,3218.7 442.9,3218.2 451.4,3217.6 459.8,3216.8 468.3,3216 476.8,3215.1 485.3,3214.1 493.8,3213.1 502.3,3212.1 510.8,3211 519.3,3209.9 527.8,3208.8 536.2,3207.6 544.7,3206.3 553.2,3205 561.7,3203.6 570.2,3202.1 578.7,3200.5 587.2,3198.8 595.7,3197 604.2,3195 612.6,3193 621.1,3190.6 629.6,3187.7 638.1,3184.9 646.6,3182.4 655.1,3180.4 663.6,3178.9 672.1,3177.6 680.6,3176.4 689,3175.3 697.5,3174.2 706,3173.1 714.5,3172 723,3170.9 731.5,3169.8 740,3168.8 748.5,3167.8 756.9,3166.9 765.4,3165.9 773.9,3165.1 782.4,3164.3 790.9,3163.5 799.4,3162.8 807.9,3162 816.4,3161.3 824.9,3160.7 833.3,3160 841.8,3159.4 850.3,3158.9 858.8,3158.4 867.3,3158 875.8,3157.6 884.3,3157.3 892.8,3157 901.3,3156.7 909.7,3156.4 918.2,3156.1 926.7,3155.9 935.2,3155.6 943.7,3155.3 952.2,3155.1 960.7,3154.8 969.2,3154.5 977.6,3154.2 986.1,3154 994.6,3153.7 1003.1,3153.5 1011.6,3153.2 1020.1,3153 1028.6,3152.8 1037.1,3152.6 1045.6,3152.3 1054,3152.1 1062.5,3151.9 1071,3151.7 1079.5,3151.5 1088,3151.3 1096.5,3151.2 1105,3151.1 1113.5,3151.1 1122,3151.1 1130.4,3151.2 1138.9,3151.3 1147.4,3151.4 1155.9,3151.5 1164.4,3151.6 1172.9,3151.7 1181.4,3151.8 1189.9,3151.9 1198.3,3151.9 1206.8,3151.9 1215.3,3151.8 1223.8,3151.7 1232.3,3151.6 1240.8,3151.4 1249.3,3151.1 1257.8,3150.9 1266.3,3150.6 1274.7,3150.2 1283.2,3149.8 1291.7,3149.2 1300.2,3148.1 1308.7,3146.7 1317.2,3145 1325.7,3143.2 1334.2,3140.7 1342.7,3137.4 1351.1,3133.6 1359.6,3129.6 1368.1,3125.6 1376.6,3121.2 1385.1,3116.5 1393.6,3111.6 1402.1,3106.7 1410.6,3102 1419,3097.3 1427.5,3092.6 1436,3087.9 1444.5,3083.3 1453,3078.9 1461.5,3074.5 1470,3070.2 1478.5,3066 1487,3062 1495.4,3058.3 1503.9,3054.2 1512.4,3048.9 1520.9,3043.3 1529.4,3038.1 1537.9,3034.1 1546.4,3030.8 1554.9,3027.8 1563.4,3025.2 1571.8,3022.7 1580.3,3020.3 1588.8,3018 1597.3,3016.4 1605.8,3015.6 1614.3,3015.3 1622.8,3015.1 1631.3,3017.4 1639.8,3021.6 1648.2,3023 1656.7,3023.5 1665.2,3023.7 1673.7,3022.1 1682.2,3019.2 1690.7,3017 1699.2,3016.2 1707.7,3015.5 1716.1,3015 1724.6,3014.5 1733.1,3014.2 1741.6,3014.1 1750.1,3013.9 1758.6,3013.8 1767.1,3013.7 1775.6,3013.6 1784.1,3013.5 1792.5,3013.4 1801,3013.4 1809.5,3013.4 1818,3013.4 1826.5,3013.4 1835,3013.4 1843.5,3013.4 1852,3013.7 1860.5,3014.3 1868.9,3015.1 1877.4,3015.8 1885.9,3016.7 1894.4,3017.7 1902.9,3018.6 1911.4,3019.2 1919.9,3019.7 1928.4,3020.1 1936.8,3020.3 1945.3,3020 1953.8,3019.3 1962.3,3018.4 1967.8,3017.9"/>
<path class="c" stroke="#6e0032" stroke-width="8.1" d="M239.1,3180.8 247.6,3180.3 256.1,3180 264.6,3179.5 273.1,3178.8 281.6,3176.9 290.1,3173.3 298.6,3169.3 307.1,3166.4 315.5,3164.7 324,3163.2 332.5,3162 341,3160.9 349.5,3159.9 358,3158.9 366.5,3157.9 375,3156.9 383.5,3156 391.9,3155 400.4,3154.1 408.9,3153.3 417.4,3152.4 425.9,3151.6 434.4,3150.9 442.9,3150.2 451.4,3149.5 459.8,3148.9 468.3,3148.3 476.8,3147.7 485.3,3147.1 493.8,3146.5 502.3,3146 510.8,3145.4 519.3,3144.9 527.8,3144.5 536.2,3144 544.7,3143.6 553.2,3143.2 561.7,3142.9 570.2,3142.6 578.7,3142.3 587.2,3142.1 595.7,3141.8 604.2,3141.6 612.6,3141.4 621.1,3141.2 629.6,3141 638.1,3140.8 646.6,3140.6 655.1,3140.3 663.6,3140.1 672.1,3139.9 680.6,3139.7 689,3139.5 697.5,3139.3 706,3139.1 714.5,3138.9 723,3138.7 731.5,3138.5 740,3138.3 748.5,3138.1 756.9,3137.9 765.4,3137.7 773.9,3137.5 782.4,3137.3 790.9,3137.1 799.4,3136.9 807.9,3136.7 816.4,3136.5 824.9,3136.3 833.3,3136.1 841.8,3135.9 850.3,3135.8 858.8,3135.6 867.3,3135.4 875.8,3135.2 884.3,3135 892.8,3134.8 901.3,3134.6 909.7,3134.4 918.2,3134.2 926.7,3134 935.2,3133.8 943.7,3133.6 952.2,3133.4 960.7,3133.2 969.2,3133 977.6,3132.9 986.1,3132.7 994.6,3132.6 1003.1,3132.4 1011.6,3132.3 1020.1,3132.2 1028.6,3132.2 1037.1,3132.1 1045.6,3132 1054,3132 1062.5,3131.9 1071,3131.8 1079.5,3131.8 1088,3131.7 1096.5,3131.7 1105,3131.6 1113.5,3131.6 1122,3131.5 1130.4,3131.5 1138.9,3131.4 1147.4,3131.4 1155.9,3131.4 1164.4,3131.4 1172.9,3131.3 1181.4,3131.3 1189.9,3131.3 1198.3,3131.3 1206.8,3131.3 1215.3,3131.3 1223.8,3131.3 1232.3,3131.3 1240.8,3131.3 1249.3,3131.3 1257.8,3131.3 1266.3,3131.3 1274.7,3131.3 1283.2,3131.3 1291.7,3131.3 1300.2,3131.3 1308.7,3131.3 1317.2,3131.3 1325.7,3131.3 1334.2,3131.3 1342.7,3131.3 1351.1,3131.3 1359.6,3131.3 1368.1,3131.3 1376.6,3131.3 1385.1,3131.3 1393.6,3131.3 1402.1,3131.3 1410.6,3131.3 1419,3131.3 1427.5,3131.3 1436,3131.3 1444.5,3131.3 1453,3131.3 1461.5,3131.3 1470,3131.3 1478.5,3131.3 1487,3131.3 1495.4,3130.4 1503.9,3129.9 1512.4,3129.9 1520.9,3129.9 1529.4,3130 1537.9,3130 1546.4,3130 1554.9,3130 1563.4,3130.1 1571.8,3130.1 1580.3,3130.1 1588.8,3130.2 1597.3,3130.2 1605.8,3130.3 1614.3,3130.4 1622.8,3130.4 1631.3,3130.5 1639.8,3130.6 1648.2,3130.6 1656.7,3130.7 1665.2,3130.8 1673.7,3130.9 1682.2,3131 1690.7,3131.1 1699.2,3131.1 1707.7,3131.2 1716.1,3131.3 1724.6,3131.4 1733.1,3131.6 1741.6,3131.7 1750.1,3131.8 1758.6,3132 1767.1,3132.3 1775.6,3132.6 1784.1,3132.9 1792.5,3133.2 1801,3133.6 1809.5,3133.9 1818,3134.2 1826.5,3134.6 1835,3134.8 1843.5,3135.1 1852,3135.3 1860.5,3135.5 1868.9,3135.7 1877.4,3135.9 1885.9,3136.1 1894.4,3136.3 1902.9,3136.5 1911.4,3136.6 1919.9,3136.8 1928.4,3137 1936.8,3137.2 1945.3,3137.3 1953.8,3137.5 1962.3,3137.7 1967.8,3137.8"/>
<path class="c" stroke="#9034dc" stroke-width="8.1" d="M239.1,3160.2 247.6,3160.8 256.1,3161.4 264.6,3162 273.1,3162.2 281.6,3160.5 290.1,3155.9 298.6,3150.8 307.1,3147.8 315.5,3146.8 324,3146.1 332.5,3145.6 341,3145.1 349.5,3144.7 358,3144.2 366.5,3143.5 375,3142.8 383.5,3142.1 391.9,3141.3 400.4,3140.5 408.9,3139.7 417.4,3138.8 425.9,3137.9 434.4,3137 442.9,3136 451.4,3134.9 459.8,3133.8 468.3,3132.6 476.8,3131.2 485.3,3129.9 493.8,3128.5 502.3,3127 510.8,3125.5 519.3,3124 527.8,3122.6 536.2,3121.1 544.7,3119.7 553.2,3118.3 561.7,3117 570.2,3115.8 578.7,3114.5 587.2,3113.3 595.7,3112 604.2,3110.8 612.6,3109.6 621.1,3108.4 629.6,3107.3 638.1,3106.2 646.6,3105.3 655.1,3104.3 663.6,3103.5 672.1,3102.8 680.6,3102.1 689,3101.4 697.5,3100.7 706,3100.1 714.5,3099.4 723,3098.7 731.5,3097.9 740,3097.1 748.5,3096.2 756.9,3095.2 765.4,3094.1 773.9,3093.1 782.4,3092.2 790.9,3091.2 799.4,3090.3 807.9,3089.3 816.4,3088.3 824.9,3087.3 833.3,3086.4 841.8,3085.6 850.3,3084.9 858.8,3084.3 867.3,3083.8 875.8,3083.4 884.3,3083 892.8,3082.7 901.3,3082.3 909.7,3082 918.2,3081.8 926.7,3081.5 935.2,3081.3 943.7,3081.1 952.2,3080.9 960.7,3080.8 969.2,3080.7 977.6,3080.5 986.1,3080.4 994.6,3080.3 1003.1,3080.2 1011.6,3080.1 1020.1,3080 1028.6,3079.8 1037.1,3079.7 1045.6,3079.5 1054,3079.3 1062.5,3079.1 1071,3078.8 1079.5,3078.6 1088,3078.4 1096.5,3078.2 1105,3077.9 1113.5,3077.7 1122,3077.5 1130.4,3077.3 1138.9,3077.1 1147.4,3076.8 1155.9,3076.6 1164.4,3076.4 1172.9,3076.2 1181.4,3076 1189.9,3075.8 1198.3,3075.6 1206.8,3075.4 1215.3,3075.3 1223.8,3075.1 1232.3,3075 1240.8,3074.8 1249.3,3074.7 1257.8,3074.6 1266.3,3074.5 1274.7,3074.3 1283.2,3074.2 1291.7,3074.1 1300.2,3073.9 1308.7,3073.8 1317.2,3073.7 1325.7,3073.5 1334.2,3073.4 1342.7,3073.2 1351.1,3073.1 1359.6,3072.9 1368.1,3072.7 1376.6,3072.6 1385.1,3072.4 1393.6,3072.2 1402.1,3072.1 1410.6,3071.9 1419,3071.7 1427.5,3071.5 1436,3071.3 1444.5,3071.1 1453,3070.8 1461.5,3070.6 1470,3070.3 1478.5,3069.9 1487,3069.6 1495.4,3069 1503.9,3068.1 1512.4,3067 1520.9,3065.9 1529.4,3064.8 1537.9,3063.9 1546.4,3063.4 1554.9,3063.3 1563.4,3063.3 1571.8,3063.3 1580.3,3063.3 1588.8,3063.3 1597.3,3063.9 1605.8,3066.1 1614.3,3068.8 1622.8,3071 1631.3,3071.3 1639.8,3068.4 1648.2,3064.4 1656.7,3062.1 1665.2,3062.2 1673.7,3062.5 1682.2,3063 1690.7,3063.5 1699.2,3064.3 1707.7,3065.3 1716.1,3066.3 1724.6,3067.2 1733.1,3067.9 1741.6,3068.3 1750.1,3068.4 1758.6,3068.5 1767.1,3068.6 1775.6,3068.7 1784.1,3068.8 1792.5,3068.9 1801,3069.1 1809.5,3069.3 1818,3069.6 1826.5,3070 1835,3071.1 1843.5,3072.7 1852,3073.9 1860.5,3074 1868.9,3073.7 1877.4,3073.3 1885.9,3072.9 1894.4,3072.7 1902.9,3073.1 1911.4,3073.9 1919.9,3074.7 1928.4,3075.1 1936.8,3075 1945.3,3074.6 1953.8,3074.1 1962.3,3073.6 1967.8,3073.4"/>
<path class="c" stroke="#5cc010" stroke-width="8.1" d="M239.1,3238.5 247.6,3245.1 256.1,3252.2 264.6,3258.5 273.1,3262.8 281.6,3265.1 290.1,3266.7 298.6,3268 307.1,3269.4 315.5,3270.7 324,3272 332.5,3273.2 341,3274.4 349.5,3275.5 358,3276.7 366.5,3277.8 375,3279.1 383.5,3280.4 391.9,3281.7 400.4,3283 408.9,3284.3 417.4,3285.5 425.9,3286.6 434.4,3287.6 442.9,3288.4 451.4,3289 459.8,3289.6 468.3,3290.2 476.8,3290.7 485.3,3291.1 493.8,3291.6 502.3,3292 510.8,3292.3 519.3,3292.6 527.8,3292.8 536.2,3293 544.7,3293.2 553.2,3293.3 561.7,3293.4 570.2,3293.6 578.7,3293.7 587.2,3293.8 595.7,3293.9 604.2,3294 612.6,3294.1 621.1,3294.2 629.6,3294.4 638.1,3294.5 646.6,3294.6 655.1,3294.8 663.6,3294.9 672.1,3295 680.6,3295.1 689,3295.2 697.5,3295.3 706,3295.4 714.5,3295.5 723,3295.5 731.5,3295.6 740,3295.6 748.5,3295.7 756.9,3295.7 765.4,3295.8 773.9,3295.8 782.4,3295.9 790.9,3295.9 799.4,3296 807.9,3296 816.4,3296.1 824.9,3296.1 833.3,3296.1 841.8,3296.2 850.3,3296.2 858.8,3296.3 867.3,3296.3 875.8,3296.3 884.3,3296.4 892.8,3296.4 901.3,3296.4 909.7,3296.5 918.2,3296.5 926.7,3296.6 935.2,3296.6 943.7,3296.7 952.2,3296.7 960.7,3296.8 969.2,3296.8 977.6,3296.9 986.1,3297 994.6,3297 1003.1,3297.1 1011.6,3297.2 1020.1,3297.3 1028.6,3297.4 1037.1,3297.5 1045.6,3297.6 1054,3297.7 1062.5,3297.8 1071,3297.9 1079.5,3298 1088,3298.1 1096.5,3298.2 1105,3298.3 1113.5,3298.5 1122,3298.6 1130.4,3298.7 1138.9,3298.8 1147.4,3298.9 1155.9,3299 1164.4,3299.1 1172.9,3299.2 1181.4,3299.3 1189.9,3299.4 1198.3,3299.4 1206.8,3299.5 1215.3,3299.6 1223.8,3299.7 1232.3,3299.7 1240.8,3299.8 1249.3,3299.9 1257.8,3300 1266.3,3300 1274.7,3300.1 1283.2,3300.1 1291.7,3300.2 1300.2,3300.2 1308.7,3300.3 1317.2,3300.3 1325.7,3300.3 1334.2,3300.1 1342.7,3299.9 1351.1,3299.5 1359.6,3299 1368.1,3298.4 1376.6,3297.7 1385.1,3297 1393.6,3296.3 1402.1,3295.6 1410.6,3295 1419,3294.2 1427.5,3293.4 1436,3292.4 1444.5,3291.5 1453,3290.5 1461.5,3289.4 1470,3288.3 1478.5,3287.2 1487,3286.1 1495.4,3284.8 1503.9,3283.7 1512.4,3283 1520.9,3282.3 1529.4,3281.7 1537.9,3281.1 1546.4,3280.5 1554.9,3280 1563.4,3279.4 1571.8,3278.8 1580.3,3278.2 1588.8,3277.7 1597.3,3277.1 1605.8,3276.4 1614.3,3275.6 1622.8,3274.4 1631.3,3271.7 1639.8,3269.1 1648.2,3268.8 1656.7,3269.3 1665.2,3270.8 1673.7,3273.1 1682.2,3274.3 1690.7,3275 1699.2,3275.5 1707.7,3275.6 1716.1,3275.5 1724.6,3275.4 1733.1,3275.2 1741.6,3275 1750.1,3274.7 1758.6,3274.4 1767.1,3274.1 1775.6,3273.8 1784.1,3273.5 1792.5,3273.2 1801,3272.8 1809.5,3272.4 1818,3272 1826.5,3271.5 1835,3271 1843.5,3270.4 1852,3269.5 1860.5,3268.4 1868.9,3267.4 1877.4,3267 1885.9,3267 1894.4,3267 1902.9,3267 1911.4,3267 1919.9,3267.2 1928.4,3267.5 1936.8,3268.1 1945.3,3268.8 1953.8,3269.4 1962.3,3270.1 1967.8,3270.4"/>
</g></g>
<rect x="1443" y="2303" width="322.4" height="589" fill="#fff"/>
<g filter="url(#bt)">
<text x="1458.8" y="2343.8" font-size="52" font-weight="bold" fill="#000" textLength="404" lengthAdjust="spacingAndGlyphs">c. Pavia University</text>
<path d="M1460.5 2375.5H1557.6" stroke="#c41e9b" stroke-width="10"/>
<text x="1571" y="2385.6" font-size="30.5" fill="#000" stroke="#000" stroke-width="0.45">Asphalt</text>
<path d="M1460.5 2437.4H1557.6" stroke="#00b3a0" stroke-width="10"/>
<text x="1571" y="2447.4" font-size="30.5" fill="#000" stroke="#000" stroke-width="0.45">Meadows</text>
<path d="M1460.5 2499.2H1557.6" stroke="#1e7396" stroke-width="10"/>
<text x="1571" y="2509.3" font-size="30.5" fill="#000" stroke="#000" stroke-width="0.45">Gravel</text>
<path d="M1460.5 2561.1H1557.6" stroke="#4a4694" stroke-width="10"/>
<text x="1571" y="2571.1" font-size="30.5" fill="#000" stroke="#000" stroke-width="0.45">Trees</text>
<path d="M1460.5 2622.9H1557.6" stroke="#c6c9b2" stroke-width="10"/>
<text x="1571" y="2633" font-size="30.5" fill="#000" stroke="#000" stroke-width="0.45">Painted metal</text>
<path d="M1460.5 2684.8H1557.6" stroke="#065c8f" stroke-width="10"/>
<text x="1571" y="2694.9" font-size="30.5" fill="#000" stroke="#000" stroke-width="0.45">Bare Soil</text>
<path d="M1460.5 2746.7H1557.6" stroke="#6e0032" stroke-width="10"/>
<text x="1571" y="2756.7" font-size="30.5" fill="#000" stroke="#000" stroke-width="0.45">Bitumen</text>
<path d="M1460.5 2808.5H1557.6" stroke="#8438d0" stroke-width="10"/>
<text x="1571" y="2818.6" font-size="30.5" fill="#000" stroke="#000" stroke-width="0.45">Self-Blocking</text>
<path d="M1460.5 2870.4H1557.6" stroke="#62ba0e" stroke-width="10"/>
<text x="1571" y="2880.4" font-size="30.5" fill="#000" stroke="#000" stroke-width="0.45">Shadows</text>
</g>
<rect class="fr" stroke-width="6.8" x="219.4" y="2299.1" width="1751.3" height="1022.5"/>
<g filter="url(#bt)" font-size="47.5" fill="#1c1c1c">
<text x="221.1" y="3380.1" text-anchor="middle">0</text>
<text x="559.7" y="3380.1" text-anchor="middle">20</text>
<text x="898.3" y="3380.1" text-anchor="middle">40</text>
<text x="1236.9" y="3380.1" text-anchor="middle">60</text>
<text x="1575.5" y="3380.1" text-anchor="middle">80</text>
<text x="1914.1" y="3380.1" text-anchor="middle">100</text>
<text x="206.5" y="3333.1" text-anchor="end">0</text>
<text x="206.5" y="3130.2" text-anchor="end">0.2</text>
<text x="206.5" y="2927.3" text-anchor="end">0.4</text>
<text x="206.5" y="2724.3" text-anchor="end">0.6</text>
<text x="206.5" y="2521.4" text-anchor="end">0.8</text>
<text x="206.5" y="2318.5" text-anchor="end">1</text>
<text font-size="58" text-anchor="middle" transform="translate(79.7 2811) rotate(-90)">Radiance</text>
</g>
</g>
<text x="1093" y="3448" font-size="58.5" text-anchor="middle" fill="#1c1c1c" filter="url(#bt)">Band Number</text>
</svg></body></html>
